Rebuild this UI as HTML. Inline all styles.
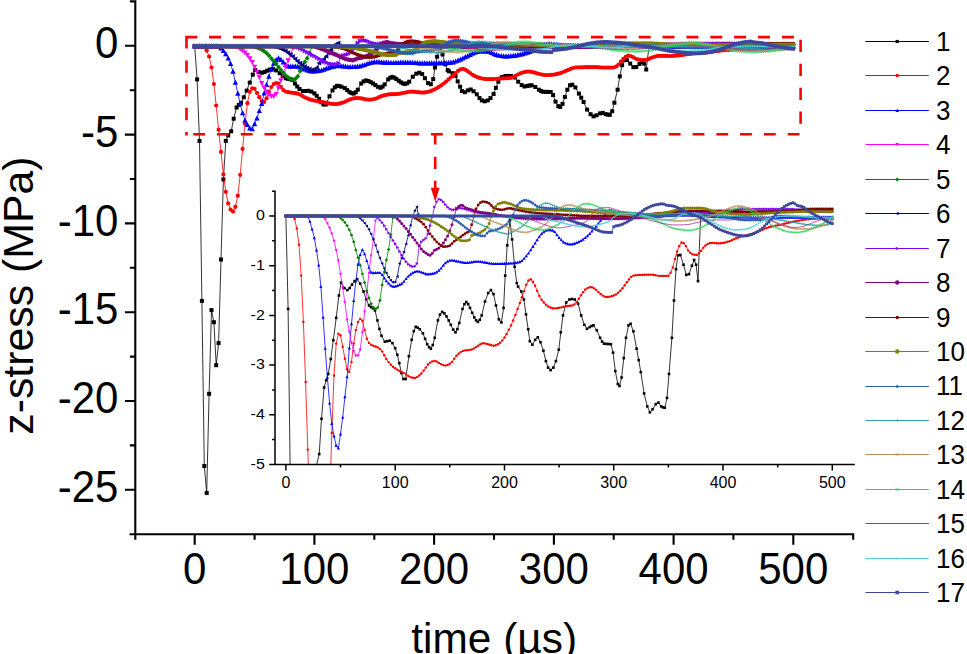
<!DOCTYPE html>
<html><head><meta charset="utf-8"><title>z-stress vs time</title>
<style>
html,body{margin:0;padding:0;background:#fff;}
svg{display:block;font-family:"Liberation Sans", sans-serif;}
text{fill:#000;}
</style></head>
<body>
<svg width="967" height="654" viewBox="0 0 967 654">
<rect width="967" height="654" fill="#fff"/>
<defs>
<marker id="m1" markerUnits="userSpaceOnUse" markerWidth="11.2" markerHeight="11.2" viewBox="-5.6 -5.6 11.2 11.2" refX="0" refY="0" overflow="visible"><rect x="-2" y="-2" width="4" height="4" fill="#000000"/></marker>
<marker id="i1" markerUnits="userSpaceOnUse" markerWidth="7.3" markerHeight="7.3" viewBox="-3.6 -3.6 7.3 7.3" refX="0" refY="0" overflow="visible"><rect x="-1.3" y="-1.3" width="2.6" height="2.6" fill="#000000"/></marker>
<marker id="m2" markerUnits="userSpaceOnUse" markerWidth="11.8" markerHeight="11.8" viewBox="-5.9 -5.9 11.8 11.8" refX="0" refY="0" overflow="visible"><circle r="2.1" fill="#ff0000"/></marker>
<marker id="i2" markerUnits="userSpaceOnUse" markerWidth="6.7" markerHeight="6.7" viewBox="-3.4 -3.4 6.7 6.7" refX="0" refY="0" overflow="visible"><circle r="1.2" fill="#ff0000"/></marker>
<marker id="m3" markerUnits="userSpaceOnUse" markerWidth="15.1" markerHeight="15.1" viewBox="-7.6 -7.6 15.1 15.1" refX="0" refY="0" overflow="visible"><path d="M0 -3 L2.7 2.2 L-2.7 2.2 Z" fill="#0000ff"/></marker>
<marker id="i3" markerUnits="userSpaceOnUse" markerWidth="9" markerHeight="9" viewBox="-4.5 -4.5 9 9" refX="0" refY="0" overflow="visible"><path d="M0 -1.8 L1.6 1.3 L-1.6 1.3 Z" fill="#0000ff"/></marker>
<marker id="m4" markerUnits="userSpaceOnUse" markerWidth="14.6" markerHeight="14.6" viewBox="-7.3 -7.3 14.6 14.6" refX="0" refY="0" overflow="visible"><path d="M0 2.9 L2.6 -2.1 L-2.6 -2.1 Z" fill="#ff00ff"/></marker>
<marker id="i4" markerUnits="userSpaceOnUse" markerWidth="8.4" markerHeight="8.4" viewBox="-4.2 -4.2 8.4 8.4" refX="0" refY="0" overflow="visible"><path d="M0 1.7 L1.5 -1.2 L-1.5 -1.2 Z" fill="#ff00ff"/></marker>
<marker id="m5" markerUnits="userSpaceOnUse" markerWidth="12.3" markerHeight="12.3" viewBox="-6.2 -6.2 12.3 12.3" refX="0" refY="0" overflow="visible"><path d="M0 -2.5 L2.5 0 L0 2.5 L-2.5 0 Z" fill="#008000"/></marker>
<marker id="i5" markerUnits="userSpaceOnUse" markerWidth="8.4" markerHeight="8.4" viewBox="-4.2 -4.2 8.4 8.4" refX="0" refY="0" overflow="visible"><path d="M0 -1.7 L1.7 0 L0 1.7 L-1.7 0 Z" fill="#008000"/></marker>
<marker id="m6" markerUnits="userSpaceOnUse" markerWidth="14" markerHeight="14" viewBox="-7 -7 14 14" refX="0" refY="0" overflow="visible"><path d="M-2.8 0 L2 -2.5 L2 2.5 Z" fill="#000080"/></marker>
<marker id="i6" markerUnits="userSpaceOnUse" markerWidth="8.4" markerHeight="8.4" viewBox="-4.2 -4.2 8.4 8.4" refX="0" refY="0" overflow="visible"><path d="M-1.7 0 L1.2 -1.5 L1.2 1.5 Z" fill="#000080"/></marker>
<marker id="m7" markerUnits="userSpaceOnUse" markerWidth="14" markerHeight="14" viewBox="-7 -7 14 14" refX="0" refY="0" overflow="visible"><path d="M2.8 0 L-2 -2.5 L-2 2.5 Z" fill="#8000ff"/></marker>
<marker id="i7" markerUnits="userSpaceOnUse" markerWidth="9" markerHeight="9" viewBox="-4.5 -4.5 9 9" refX="0" refY="0" overflow="visible"><path d="M1.8 0 L-1.3 -1.6 L-1.3 1.6 Z" fill="#8000ff"/></marker>
<marker id="m8" markerUnits="userSpaceOnUse" markerWidth="12.3" markerHeight="12.3" viewBox="-6.2 -6.2 12.3 12.3" refX="0" refY="0" overflow="visible"><circle r="2.2" fill="#800080"/></marker>
<marker id="i8" markerUnits="userSpaceOnUse" markerWidth="8.4" markerHeight="8.4" viewBox="-4.2 -4.2 8.4 8.4" refX="0" refY="0" overflow="visible"><circle r="1.5" fill="#800080"/></marker>
<marker id="m9" markerUnits="userSpaceOnUse" markerWidth="10.6" markerHeight="10.6" viewBox="-5.3 -5.3 10.6 10.6" refX="0" refY="0" overflow="visible"><circle r="1.9" fill="#800000"/></marker>
<marker id="i9" markerUnits="userSpaceOnUse" markerWidth="8.1" markerHeight="8.1" viewBox="-4.1 -4.1 8.1 8.1" refX="0" refY="0" overflow="visible"><circle r="1.4" fill="#800000"/></marker>
<marker id="m10" markerUnits="userSpaceOnUse" markerWidth="12.3" markerHeight="12.3" viewBox="-6.2 -6.2 12.3 12.3" refX="0" refY="0" overflow="visible"><circle r="2.2" fill="#808000"/></marker>
<marker id="i10" markerUnits="userSpaceOnUse" markerWidth="8.4" markerHeight="8.4" viewBox="-4.2 -4.2 8.4 8.4" refX="0" refY="0" overflow="visible"><circle r="1.5" fill="#808000"/></marker>
<marker id="m11" markerUnits="userSpaceOnUse" markerWidth="11.2" markerHeight="11.2" viewBox="-5.6 -5.6 11.2 11.2" refX="0" refY="0" overflow="visible"><path d="M0 -2.3 L2.3 0 L0 2.3 L-2.3 0 Z" fill="#2a5cb0"/></marker>
<marker id="i11" markerUnits="userSpaceOnUse" markerWidth="8.4" markerHeight="8.4" viewBox="-4.2 -4.2 8.4 8.4" refX="0" refY="0" overflow="visible"><path d="M0 -1.7 L1.7 0 L0 1.7 L-1.7 0 Z" fill="#2a5cb0"/></marker>
<marker id="m12" markerUnits="userSpaceOnUse" markerWidth="9" markerHeight="9" viewBox="-4.5 -4.5 9 9" refX="0" refY="0" overflow="visible"><path d="M-1.6 0H1.6 M0 -1.6V1.6" stroke="#2ea0a0" stroke-width="0.7" fill="none"/></marker>
<marker id="i12" markerUnits="userSpaceOnUse" markerWidth="6.2" markerHeight="6.2" viewBox="-3.1 -3.1 6.2 6.2" refX="0" refY="0" overflow="visible"><path d="M-1.1 0H1.1 M0 -1.1V1.1" stroke="#2ea0a0" stroke-width="0.6" fill="none"/></marker>
<marker id="m13" markerUnits="userSpaceOnUse" markerWidth="8.4" markerHeight="8.4" viewBox="-4.2 -4.2 8.4 8.4" refX="0" refY="0" overflow="visible"><path d="M-1.5 -1.5L1.5 1.5 M-1.5 1.5L1.5 -1.5" stroke="#b8905c" stroke-width="0.7" fill="none"/></marker>
<marker id="i13" markerUnits="userSpaceOnUse" markerWidth="6.2" markerHeight="6.2" viewBox="-3.1 -3.1 6.2 6.2" refX="0" refY="0" overflow="visible"><path d="M-1.1 -1.1L1.1 1.1 M-1.1 1.1L1.1 -1.1" stroke="#b8905c" stroke-width="0.6" fill="none"/></marker>
<marker id="m14" markerUnits="userSpaceOnUse" markerWidth="8.4" markerHeight="8.4" viewBox="-4.2 -4.2 8.4 8.4" refX="0" refY="0" overflow="visible"><path d="M-1.5 -1.5L1.5 1.5 M-1.5 1.5L1.5 -1.5" stroke="#2ed35a" stroke-width="0.7" fill="none"/></marker>
<marker id="i14" markerUnits="userSpaceOnUse" markerWidth="6.2" markerHeight="6.2" viewBox="-3.1 -3.1 6.2 6.2" refX="0" refY="0" overflow="visible"><path d="M-1.1 -1.1L1.1 1.1 M-1.1 1.1L1.1 -1.1" stroke="#2ed35a" stroke-width="0.6" fill="none"/></marker>
<marker id="m16" markerUnits="userSpaceOnUse" markerWidth="8.4" markerHeight="8.4" viewBox="-4.2 -4.2 8.4 8.4" refX="0" refY="0" overflow="visible"><path d="M-1.5 0H1.5 M0 -1.5V1.5" stroke="#4fd0d8" stroke-width="0.7" fill="none"/></marker>
<marker id="i16" markerUnits="userSpaceOnUse" markerWidth="6.2" markerHeight="6.2" viewBox="-3.1 -3.1 6.2 6.2" refX="0" refY="0" overflow="visible"><path d="M-1.1 0H1.1 M0 -1.1V1.1" stroke="#4fd0d8" stroke-width="0.6" fill="none"/></marker>
<marker id="m17" markerUnits="userSpaceOnUse" markerWidth="10.1" markerHeight="10.1" viewBox="-5 -5 10.1 10.1" refX="0" refY="0" overflow="visible"><rect x="-1.8" y="-1.8" width="3.6" height="3.6" fill="#3b489e"/></marker>
<marker id="i17" markerUnits="userSpaceOnUse" markerWidth="7.8" markerHeight="7.8" viewBox="-3.9 -3.9 7.8 7.8" refX="0" refY="0" overflow="visible"><rect x="-1.4" y="-1.4" width="2.8" height="2.8" fill="#3b489e"/></marker>
<clipPath id="insclip"><rect x="275" y="188" width="590" height="276.3"/></clipPath>
</defs>
<g id="main-curves">
<polyline points="194.7,46.2 197.1,79.4 199.5,140.9 201.9,300.9 204.3,466 206.7,492.9 209.1,393.8 211.5,310.1 213.9,322.2 216.2,365.2 218.6,343.1 221,259.5 223.4,179.4 225.8,140.9 228.2,135.4 231.2,131.3 233.7,118.7 236.6,107.5 238.8,104.9 241,102.7 243.8,97.3 246.7,90.6 249.8,82.6 252.8,74.6 255.2,70 258.8,72 262.1,72.7 264.6,71.9 267.1,70.7 269.9,69.5 272.8,68.8 276.1,70.4 279.7,73.2 282.7,76 285.7,78.2 287.9,78.8 290.1,79.2 292.3,79.9 294.9,83.5 297.2,86.5 299.5,89 303,91.1 305.7,91 308.4,90.8 311.4,91.6 314.4,93.4 316.7,95.8 319,98.8 321.2,102.3 323.5,104.5 325.9,104.5 329.5,96.3 332.5,90.4 334.8,87.3 337,85.8 339.2,86.1 341.4,86.7 344.8,88.1 347.2,90.1 349.5,92 351.5,93.1 353.6,93.6 355.7,92.3 357.8,89.7 361.2,83.5 363.6,81.4 365.9,80.5 368.3,81 370.7,82.1 373,83.5 375.4,85.1 377.9,86.8 380.5,87.8 382.6,86.6 384.7,84.4 388.2,79.4 390.3,77.7 392.4,76.9 394.4,77.7 396.4,79.1 398.8,80.8 401.1,82.4 403.1,83.5 405,84 407.1,83.3 409.2,81.7 412.8,76.7 416.3,73.7 419.3,72.7 422.2,74.1 424.9,78.2 428,83.1 430.8,84.2 433.2,79.1 435,67.5 437.1,56.7 440.1,47.6 442.5,54.5 445.3,64.3 447.7,70.2 449.1,71.4 452.6,73.2 455.5,76 457.7,81.4 460.1,86.7 461.9,91 464.8,92.2 467.8,90.4 470.7,89.5 473.6,91.3 476.8,94.3 479.5,98.1 481.9,100.4 484.7,101.3 487.8,100.4 490.5,98.1 493.6,94 495.9,87.8 498.3,81.7 501.8,77.1 505.3,76 508.1,75.9 511.1,76 514.7,77.5 518.2,81.7 521.7,85.1 524.5,86.5 527.5,85.9 529.6,85.5 531.7,85.3 535.3,87 538.9,89.7 541.1,91.1 543.3,91.8 545.8,91.9 548.3,91.9 550.7,92 553.1,95 555.5,101.6 558.3,106.2 560.2,106.9 562.5,103.9 564.9,97 567.3,89.7 570,85.3 572.3,84.7 575.4,87.4 578.9,93.6 581.2,97.7 583.6,102 587.1,109.6 590.6,114.2 593.5,116.4 596.5,115.3 600,113.4 602.8,112.9 605.8,114.2 607.8,114.6 609.8,114.8 612.2,111.2 614.4,102.7 617.6,89.7 619.8,76.4 622.1,65.2 624.1,60.2 626.8,60.1 630.2,63.6 633.4,67.2 636.3,67 639.5,64 641.9,61.9 644.1,63.6 646.2,69.5 649,46.7" fill="none" stroke="#000000" stroke-width="0.8" stroke-linejoin="round" marker-start="url(#m1)" marker-mid="url(#m1)" marker-end="url(#m1)"/>
<polyline points="194.7,46.2 197.1,46.2 199.5,46.2 201.9,46.2 204.3,47.3 206.7,50.6 209.1,56.5 211.5,67.5 213.9,84 216.2,105.5 218.6,129.7 221,151.9 223.4,174.4 225.8,191.8 228.2,203.4 230.6,209.6 233,211.6 235.4,206.8 237.8,195.7 240.2,174.8 242.6,148.9 245,123.7 247.4,103.2 249.8,91.8 252.2,88.3 254.6,88.8 257,92.9 259.3,97.2 261.7,101 264.1,101.9 266.5,98.3 268.9,91.8 271.3,87 273.7,84.1 276.1,83 278.5,83.6 280.9,86.9 283.3,90 285.7,91.5 288.1,92.2 290.5,92.6 292.9,92.8 295.3,93.2 297.7,93.7 300.1,94.6 302.4,96 304.8,97.3 307.2,98.4 309.6,99.4 312,100.1 314.4,100.6 316.8,101.1 319.2,101.6 321.6,102 324,102.3 326.4,102.8 328.8,103.4 331.2,103.8 333.6,104 336,104.1 338.4,103.8 340.8,103.2 343.2,102.5 345.5,101.5 347.9,100.4 350.3,99.3 352.7,98.6 355.1,98.2 357.5,98 359.9,98.2 362.3,98.7 364.7,99.1 367.1,99.5 369.5,99.7 371.9,99.5 374.3,99 376.7,98.3 379.1,97.2 381.5,96.2 383.9,95.4 386.3,94.8 388.6,94.4 391,94.2 393.4,94.2 395.8,94.1 398.2,93.9 400.6,93.5 403,93 405.4,92.6 407.8,92 410.2,91.7 412.6,91.7 415,91.9 417.4,92.1 419.8,92.4 422.2,92.6 424.6,92.4 427,92 429.4,91.5 431.7,90.7 434.1,89.6 436.5,88.3 438.9,86.9 441.3,85.3 443.7,83.5 446.1,81.6 448.5,79.4 450.9,77.3 453.3,75.2 455.7,73 458.1,70.8 460.5,69.3 462.9,68.8 465.3,69.7 467.7,71.2 470.1,73 472.5,74.8 474.8,76.1 477.2,77.1 479.6,77.9 482,78.5 484.4,78.9 486.8,79.1 489.2,79.2 491.6,79.2 494,79 496.4,78.8 498.8,78.7 501.2,78.5 503.6,78.3 506,78.3 508.4,78.2 510.8,77.8 513.2,76.9 515.5,75.8 517.9,74.5 520.3,73.4 522.7,72.5 525.1,71.9 527.5,71.6 529.9,71.7 532.3,72.1 534.7,72.6 537.1,73.4 539.5,74 541.9,74.6 544.3,75.1 546.7,75.1 549.1,75 551.5,74.9 553.9,74.6 556.3,74.2 558.6,73.6 561,72.9 563.4,72 565.8,70.9 568.2,69.9 570.6,68.9 573,68 575.4,67.5 577.8,67.4 580.2,67.3 582.6,67.3 585,67.2 587.4,67.2 589.8,67.2 592.2,67.2 594.6,67.2 597,67.2 599.4,67.4 601.7,67.5 604.1,67.6 606.5,67.6 608.9,67.6 611.3,67.6 613.7,67.5 616.1,66.5 618.5,64.6 620.9,61.6 623.3,58.9 625.7,56.9 628.1,55.7 630.5,56 632.9,57 635.3,58.5 637.7,59.4 640.1,59.8 642.5,60.1 644.8,60.1 647.2,59.5 649.6,58.6 652,57.5 654.4,56.8 656.8,56.2 659.2,55.8 661.6,55.8 664,55.9 666.4,55.9 668.8,56 671.2,56 673.6,55.8 676,55.7 678.4,55.4 680.8,55.2 683.2,54.9 685.6,54.5 687.9,54.1 690.3,53.9 692.7,53.6 695.1,53.4 697.5,53.2 699.9,53 702.3,52.8 704.7,52.6 707.1,52.4 709.5,52.1 711.9,51.8 714.3,51.5 716.7,51.1 719.1,50.8 721.5,50.5 723.9,50.2 726.3,50 728.7,49.9 731,49.7 733.4,49.5 735.8,49.4 738.2,49.2 740.6,49 743,48.8 745.4,48.6 747.8,48.4 750.2,48.3 752.6,48.1 755,47.9 757.4,47.8 759.8,47.6 762.2,47.5 764.6,47.4 767,47.3 769.4,47.3 771.8,47.2 774.1,47.2 776.5,47.1 778.9,47.1 781.3,47.1 783.7,47.1 786.1,47.1 788.5,47.2 790.9,47.3 793.3,47.3" fill="none" stroke="#ff0000" stroke-width="0.8" stroke-linejoin="round" marker-start="url(#m2)" marker-mid="url(#m2)" marker-end="url(#m2)"/>
<polyline points="194.7,46.2 197.1,46.2 199.5,46.2 201.9,46.2 204.3,46.2 206.7,46.2 209.1,46.2 211.5,46.2 213.9,46.2 216.2,46.2 218.6,46.5 221,48.2 223.4,50.9 225.8,54 228.2,58.4 230.6,63.8 233,71.5 235.4,82.5 237.8,93.6 240.2,103.9 242.6,113.1 245,120.4 247.4,124.9 249.8,128.3 252.2,129.1 254.6,124.1 257,118.2 259.3,110.9 261.7,103.7 264.1,93.4 266.5,84.8 268.9,76.5 271.3,69.5 273.7,63.5 276.1,60.1 278.5,58.3 280.9,59.8 283.3,62.2 285.7,64.7 288.1,66.3 290.5,66.6 292.9,66.4 295.3,66.4 297.7,66.5 300.1,67.2 302.4,68.5 304.8,69.4 307.2,70.3 309.6,71 312,71.4 314.4,71.4 316.8,71.1 319.2,70.8 321.6,70.4 324,69.6 326.4,68.6 328.8,67.7 331.2,67.1 333.6,66.5 336,66.1 338.4,65.9 340.8,66 343.2,66.3 345.5,66.6 347.9,66.9 350.3,67 352.7,66.9 355.1,66.8 357.5,66.6 359.9,66.3 362.3,65.6 364.7,64.9 367.1,63.9 369.5,63 371.9,62.5 374.3,62.1 376.7,62 379.1,62.1 381.5,62.3 383.9,62.5 386.3,62.6 388.6,62.8 391,62.9 393.4,62.9 395.8,62.8 398.2,62.7 400.6,62.6 403,62.5 405.4,62.5 407.8,62.5 410.2,62.6 412.6,62.8 415,62.9 417.4,63.1 419.8,63.2 422.2,63.2 424.6,63.2 427,63.2 429.4,63.2 431.7,63.2 434.1,63.2 436.5,63.2 438.9,63.1 441.3,63.1 443.7,63.1 446.1,63 448.5,62.8 450.9,62.6 453.3,62.2 455.7,61.4 458.1,60.5 460.5,59.5 462.9,58.4 465.3,57.1 467.7,56 470.1,54.8 472.5,53.5 474.8,52.5 477.2,51.9 479.6,51.4 482,51.2 484.4,51.2 486.8,51.3 489.2,51.9 491.6,52.9 494,54 496.4,54.8 498.8,55.5 501.2,55.9 503.6,56.2 506,56.3 508.4,56.3 510.8,56.1 513.2,55.8 515.5,55.5 517.9,55.1 520.3,54.6 522.7,54 525.1,53.3 527.5,52.5 529.9,51.7 532.3,50.8 534.7,49.8 537.1,48.8 539.5,47.8 541.9,46.7 544.3,45.6 546.7,44.5 549.1,44.1 551.5,44.2 553.9,44.4 556.3,44.7 558.6,44.9 561,45.2 563.4,45.5 565.8,45.7 568.2,45.8 570.6,45.9 573,46.1 575.4,46.2 577.8,46.3 580.2,46.4 582.6,46.5 585,46.5 587.4,46.5 589.8,46.6 592.2,46.5 594.6,46.5 597,46.5 599.4,46.4 601.7,46.4 604.1,46.3 606.5,46.2 608.9,46.2 611.3,46.1 613.7,46 616.1,46 618.5,45.9 620.9,45.9 623.3,45.9 625.7,45.8 628.1,45.8 630.5,45.9 632.9,45.9 635.3,45.9 637.7,45.9 640.1,46 642.5,46 644.8,46.1 647.2,46.1 649.6,46.2 652,46.2 654.4,46.3 656.8,46.3 659.2,46.4 661.6,46.4 664,46.5 666.4,46.5 668.8,46.5 671.2,46.5 673.6,46.6 676,46.6 678.4,46.6 680.8,46.6 683.2,46.6 685.6,46.6 687.9,46.6 690.3,46.6 692.7,46.6 695.1,46.7 697.5,46.7 699.9,46.7 702.3,46.7 704.7,46.7 707.1,46.7 709.5,46.7 711.9,46.7 714.3,46.7 716.7,46.7 719.1,46.7 721.5,46.7 723.9,46.7 726.3,46.7 728.7,46.7 731,46.7 733.4,46.7 735.8,46.7 738.2,46.7 740.6,46.7 743,46.7 745.4,46.7 747.8,46.7 750.2,46.7 752.6,46.7 755,46.7 757.4,46.7 759.8,46.7 762.2,46.7 764.6,46.7 767,46.7 769.4,46.7 771.8,46.7 774.1,46.7 776.5,46.6 778.9,46.6 781.3,46.6 783.7,46.6 786.1,46.6 788.5,46.6 790.9,46.6 793.3,46.6" fill="none" stroke="#0000ff" stroke-width="0.8" stroke-linejoin="round" marker-start="url(#m3)" marker-mid="url(#m3)" marker-end="url(#m3)"/>
<polyline points="194.7,46.2 197.1,46.2 199.5,46.2 201.9,46.2 204.3,46.2 206.7,46.2 209.1,46.2 211.5,46.2 213.9,46.2 216.2,46.2 218.6,46.2 221,46.2 223.4,46.2 225.8,46.2 228.2,46.2 230.6,46.2 233,46.2 235.4,46.6 237.8,47.4 240.2,48.8 242.6,50.5 245,52.5 247.4,55.1 249.8,58.4 252.2,62.2 254.6,66.9 257,71.9 259.3,77.1 261.7,83.2 264.1,87.5 266.5,91.5 268.9,94.6 271.3,96.1 273.7,96.1 276.1,94 278.5,87.8 280.9,80.4 283.3,73.4 285.7,66.5 288.1,60.4 290.5,54.8 292.9,47.9" fill="none" stroke="#ff00ff" stroke-width="0.8" stroke-linejoin="round" marker-start="url(#m4)" marker-mid="url(#m4)" marker-end="url(#m4)"/>
<polyline points="194.7,46.2 197.1,46.2 199.5,46.2 201.9,46.2 204.3,46.2 206.7,46.2 209.1,46.2 211.5,46.2 213.9,46.2 216.2,46.2 218.6,46.2 221,46.2 223.4,46.2 225.8,46.2 228.2,46.2 230.6,46.2 233,46.2 235.4,46.2 237.8,46.2 240.2,46.2 242.6,46.2 245,46.2 247.4,46.2 249.8,46.2 252.2,46.3 254.6,46.9 257,47.6 259.3,48.5 261.7,49.6 264.1,51.2 266.5,53 268.9,55.4 271.3,58.4 273.7,61.1 276.1,63.8 278.5,66.9 280.9,70 283.3,72.9 285.7,75.5 288.1,77.6 290.5,78.9 292.9,79.4 295.3,78.9 297.7,76.4 300.1,70.9 302.4,66.2 304.8,61.9 307.2,58.2 309.6,52.9 311.9,46.7" fill="none" stroke="#008000" stroke-width="0.8" stroke-linejoin="round" marker-start="url(#m5)" marker-mid="url(#m5)" marker-end="url(#m5)"/>
<polyline points="194.7,46.2 197.1,46.2 199.5,46.2 201.9,46.2 204.3,46.2 206.7,46.2 209.1,46.2 211.5,46.2 213.9,46.2 216.2,46.2 218.6,46.2 221,46.2 223.4,46.2 225.8,46.2 228.2,46.2 230.6,46.2 233,46.2 235.4,46.2 237.8,46.2 240.2,46.2 242.6,46.2 245,46.2 247.4,46.2 249.8,46.2 252.2,46.2 254.6,46.2 257,46.2 259.3,46.2 261.7,46.2 264.1,46.2 266.5,46.2 268.9,46.2 271.3,46.2 273.7,46.5 276.1,47.1 278.5,47.8 280.9,48.7 283.3,49.8 285.7,51.1 288.1,52.7 290.5,54.5 292.9,56.6 295.3,59.1 297.7,61.2 300.1,63.2 302.4,65 304.8,66.6 307.2,68.1 309.6,69.1 312,69.9 314.4,69.8 316.8,67.8 319.2,63.1 321.6,61.3 324,59 326.4,56.2 328.8,53.1 331.2,49.5 333.6,46.5 336,44.3 338.4,42.9 339.6,45.7" fill="none" stroke="#000080" stroke-width="0.8" stroke-linejoin="round" marker-start="url(#m6)" marker-mid="url(#m6)" marker-end="url(#m6)"/>
<polyline points="194.7,46.2 197.1,46.2 199.5,46.2 201.9,46.2 204.3,46.2 206.7,46.2 209.1,46.2 211.5,46.2 213.9,46.2 216.2,46.2 218.6,46.2 221,46.2 223.4,46.2 225.8,46.2 228.2,46.2 230.6,46.2 233,46.2 235.4,46.2 237.8,46.2 240.2,46.2 242.6,46.2 245,46.2 247.4,46.2 249.8,46.2 252.2,46.2 254.6,46.2 257,46.2 259.3,46.2 261.7,46.2 264.1,46.2 266.5,46.2 268.9,46.2 271.3,46.2 273.7,46.2 276.1,46.2 278.5,46.2 280.9,46.2 283.3,46.2 285.7,46.2 288.1,46.2 290.5,46.2 292.9,46.3 295.3,46.9 297.7,47.6 300.1,48.6 302.4,49.6 304.8,50.9 307.2,52.3 309.6,53.6 312,54.9 314.4,56.1 316.8,57.4 319.2,58.8 321.6,60.2 324,61.4 326.4,62.5 328.8,63.4 331.2,63.9 333.6,64.3 336,64.2 338.4,63.2 340.8,56.9 343.2,55.4 345.5,54.8 347.9,54.2 350.3,52.5 352.7,49.7 355.1,46.5 357.5,43 359.9,41.1 362.3,40.2 364.7,40.4 367.1,41.1 369.5,42.1 371.9,43 374.3,43.6 376.7,44 379.1,43.9 381.5,43.4 383.9,43.4 386.3,43.4 388.6,43.5 391,43.7 393.4,43.9 395.8,44.1 398.2,44.4 400.6,44.6 403,44.8 405.4,45 407.8,45.1 410.2,45.2 412.6,45.3 415,45.4 417.4,45.5 419.8,45.6 422.2,45.6 424.6,45.7 427,45.8 429.4,46 431.7,46.1 434.1,46.2 436.5,46.3 438.9,46.5 441.3,46.6 443.7,46.7 446.1,46.9 448.5,47 450.9,47.1 453.3,47.1 455.7,47.2 458.1,47.2 460.5,47.2 462.9,47.3 465.3,47.3 467.7,47.3 470.1,47.4 472.5,47.4 474.8,47.4 477.2,47.4 479.6,47.4 482,47.4 484.4,47.4 486.8,47.4 489.2,47.4 491.6,47.4 494,47.4 496.4,47.3 498.8,47.3 501.2,47.2 503.6,47.2 506,47.2 508.4,47.2 510.8,47.1 513.2,47.1 515.5,47.1 517.9,47.1 520.3,47.1 522.7,47.1 525.1,47.1 527.5,47.1 529.9,47.1 532.3,47.2 534.7,47.2 537.1,47.2 539.5,47.2 541.9,47.2 544.3,47.2 546.7,47.2 549.1,47.3 551.5,47.3 553.9,47.3 556.3,47.3 558.6,47.3 561,47.2 563.4,47.2 565.8,47.2 568.2,47.2 570.6,47.1 573,47.1 575.4,47 577.8,47 580.2,46.9 582.6,46.9 585,46.8 587.4,46.8 589.8,46.7 592.2,46.7 594.6,46.6 597,46.5 599.4,46.4 601.7,46.3 604.1,46.2 606.5,46.1 608.9,46 611.3,45.9 613.7,45.8 616.1,45.7 618.5,45.6 620.9,45.5 623.3,45.4 625.7,45.3 628.1,45.3 630.5,45.2 632.9,45.1 635.3,45.1 637.7,45.1 640.1,45 642.5,45 644.8,44.9 647.2,44.9 649.6,44.9 652,44.8 654.4,44.8 656.8,44.7 659.2,44.7 661.6,44.7 664,44.6 666.4,44.6 668.8,44.5 671.2,44.5 673.6,44.4 676,44.4 678.4,44.3 680.8,44.2 683.2,44.1 685.6,44 687.9,43.9 690.3,43.8 692.7,43.8 695.1,43.7 697.5,43.7 699.9,43.7 702.3,43.7 704.7,43.7 707.1,43.7 709.5,43.7 711.9,43.7 714.3,43.7 716.7,43.7 719.1,43.7 721.5,43.7 723.9,43.7 726.3,43.7 728.7,43.7 731,43.7 733.4,43.7 735.8,43.7 738.2,43.7 740.6,43.7 743,43.7 745.4,43.7 747.8,43.7 750.2,43.8 752.6,43.8 755,43.9 757.4,44 759.8,44.1 762.2,44.2 764.6,44.3 767,44.4 769.4,44.4 771.8,44.5 774.1,44.5 776.5,44.6 778.9,44.6 781.3,44.6 783.7,44.7 786.1,44.7 788.5,44.7 790.9,44.8 793.3,44.8" fill="none" stroke="#8000ff" stroke-width="0.8" stroke-linejoin="round" marker-start="url(#m7)" marker-mid="url(#m7)" marker-end="url(#m7)"/>
<polyline points="194.7,46.2 197.1,46.2 199.5,46.2 201.9,46.2 204.3,46.2 206.7,46.2 209.1,46.2 211.5,46.2 213.9,46.2 216.2,46.2 218.6,46.2 221,46.2 223.4,46.2 225.8,46.2 228.2,46.2 230.6,46.2 233,46.2 235.4,46.2 237.8,46.2 240.2,46.2 242.6,46.2 245,46.2 247.4,46.2 249.8,46.2 252.2,46.2 254.6,46.2 257,46.2 259.3,46.2 261.7,46.2 264.1,46.2 266.5,46.2 268.9,46.2 271.3,46.2 273.7,46.2 276.1,46.2 278.5,46.2 280.9,46.2 283.3,46.2 285.7,46.2 288.1,46.2 290.5,46.2 292.9,46.2 295.3,46.2 297.7,46.2 300.1,46.2 302.4,46.2 304.8,46.2 307.2,46.2 309.6,46.2 312,46.2 314.4,46.6 316.8,47.3 319.2,48 321.6,48.9 324,49.8 326.4,50.7 328.8,51.7 331.2,52.7 333.6,53.8 336,54.8 338.4,55.8 340.8,56.8 343.2,57.9 345.5,58.9 347.9,59.5 350.3,59.9 352.7,60.2 355.1,59.5 357.5,58.4 359.9,58.1 362.3,57.6 364.7,56.8 367.1,55.9 369.5,54.7 371.9,53.3 374.3,51.5 376.7,49.3 379.1,46.4 381.5,43.7 383.9,42.8 386.3,42.3 388.6,42.5 391,43.1 393.4,43.5 395.8,43.7 398.2,44 400.6,44.2 403,44.5 405.4,44.7 407.8,44.8 410.2,45 412.6,45.1 415,45.2 417.4,45.3 419.8,45.4 422.2,45.5 424.6,45.7 427,45.8 429.4,46 431.7,46.1 434.1,46.2 436.5,46.3 438.9,46.3 441.3,46.4 443.7,46.5 446.1,46.6 448.5,46.6 450.9,46.7 453.3,46.7 455.7,46.8 458.1,46.8 460.5,46.8 462.9,46.9 465.3,46.9 467.7,46.9 470.1,46.9 472.5,46.9 474.8,46.9 477.2,46.9 479.6,46.9 482,46.9 484.4,46.9 486.8,46.9 489.2,46.9 491.6,46.9 494,46.9 496.4,46.9 498.8,46.9 501.2,46.9 503.6,46.9 506,46.9 508.4,46.9 510.8,46.9 513.2,46.9 515.5,46.9 517.9,46.9 520.3,46.9 522.7,47 525.1,47 527.5,47 529.9,47 532.3,47 534.7,47 537.1,47 539.5,47 541.9,47.1 544.3,47.1 546.7,47.1 549.1,47.1 551.5,47.1 553.9,47.1 556.3,47.1 558.6,47.1 561,47 563.4,47 565.8,47 568.2,46.9 570.6,46.9 573,46.9 575.4,46.8 577.8,46.7 580.2,46.7 582.6,46.6 585,46.6 587.4,46.5 589.8,46.4 592.2,46.4 594.6,46.3 597,46.3 599.4,46.2 601.7,46.2 604.1,46.2 606.5,46.1 608.9,46.1 611.3,46 613.7,46 616.1,46 618.5,45.9 620.9,45.9 623.3,45.9 625.7,45.8 628.1,45.8 630.5,45.8 632.9,45.7 635.3,45.7 637.7,45.7 640.1,45.6 642.5,45.6 644.8,45.6 647.2,45.5 649.6,45.5 652,45.5 654.4,45.4 656.8,45.4 659.2,45.3 661.6,45.3 664,45.3 666.4,45.2 668.8,45.2 671.2,45.1 673.6,45.1 676,45.1 678.4,45 680.8,45 683.2,45 685.6,44.9 687.9,44.9 690.3,44.9 692.7,44.8 695.1,44.8 697.5,44.8 699.9,44.8 702.3,44.7 704.7,44.7 707.1,44.7 709.5,44.7 711.9,44.6 714.3,44.6 716.7,44.6 719.1,44.6 721.5,44.5 723.9,44.5 726.3,44.5 728.7,44.5 731,44.5 733.4,44.5 735.8,44.4 738.2,44.4 740.6,44.4 743,44.4 745.4,44.4 747.8,44.4 750.2,44.4 752.6,44.4 755,44.4 757.4,44.4 759.8,44.4 762.2,44.4 764.6,44.4 767,44.4 769.4,44.4 771.8,44.4 774.1,44.4 776.5,44.4 778.9,44.4 781.3,44.4 783.7,44.4 786.1,44.4 788.5,44.4 790.9,44.4 793.3,44.4" fill="none" stroke="#800080" stroke-width="0.8" stroke-linejoin="round" marker-start="url(#m8)" marker-mid="url(#m8)" marker-end="url(#m8)"/>
<polyline points="194.7,46.2 197.1,46.2 199.5,46.2 201.9,46.2 204.3,46.2 206.7,46.2 209.1,46.2 211.5,46.2 213.9,46.2 216.2,46.2 218.6,46.2 221,46.2 223.4,46.2 225.8,46.2 228.2,46.2 230.6,46.2 233,46.2 235.4,46.2 237.8,46.2 240.2,46.2 242.6,46.2 245,46.2 247.4,46.2 249.8,46.2 252.2,46.2 254.6,46.2 257,46.2 259.3,46.2 261.7,46.2 264.1,46.2 266.5,46.2 268.9,46.2 271.3,46.2 273.7,46.2 276.1,46.2 278.5,46.2 280.9,46.2 283.3,46.2 285.7,46.2 288.1,46.2 290.5,46.2 292.9,46.2 295.3,46.2 297.7,46.2 300.1,46.2 302.4,46.2 304.8,46.2 307.2,46.2 309.6,46.2 312,46.2 314.4,46.2 316.8,46.2 319.2,46.2 321.6,46.2 324,46.2 326.4,46.2 328.8,46.2 331.2,46.2 333.6,46.5 336,46.9 338.4,47.3 340.8,47.8 343.2,48.4 345.5,49.1 347.9,50.2 350.3,51.4 352.7,52.6 355.1,53.6 357.5,54.6 359.9,55.4 362.3,56.1 364.7,56.8 367.1,57.2 369.5,57.2 371.9,57 374.3,56.8 376.7,56.1 379.1,55.3 381.5,54.7 383.9,54.2 386.3,53.7 388.6,53.1 391,52.5 393.4,52.1 395.8,51.7 398.2,49.3 400.6,46.2 403,43.6 405.4,42.3 407.8,41.4 410.2,41.1 412.6,41.1 415,41.4 417.4,41.7 419.8,42.5 422.2,43.2 424.6,43.6 427,43.8 429.4,43.9 431.7,44 434.1,43.8 436.5,43.6 438.9,43.4 441.3,43.5 443.7,43.7 446.1,43.9 448.5,44.1 450.9,44.2 453.3,44.4 455.7,44.5 458.1,44.7 460.5,44.8 462.9,44.9 465.3,45 467.7,45.1 470.1,45.1 472.5,45.2 474.8,45.3 477.2,45.3 479.6,45.4 482,45.4 484.4,45.5 486.8,45.5 489.2,45.6 491.6,45.6 494,45.7 496.4,45.7 498.8,45.8 501.2,45.8 503.6,45.9 506,45.9 508.4,45.9 510.8,46 513.2,46 515.5,46.1 517.9,46.1 520.3,46.1 522.7,46.2 525.1,46.2 527.5,46.2 529.9,46.2 532.3,46.2 534.7,46.2 537.1,46.2 539.5,46.2 541.9,46.2 544.3,46.2 546.7,46.2 549.1,46.2 551.5,46.2 553.9,46.2 556.3,46.2 558.6,46.2 561,46.2 563.4,46.2 565.8,46.2 568.2,46.2 570.6,46.2 573,46.1 575.4,46.1 577.8,46 580.2,46 582.6,45.9 585,45.8 587.4,45.8 589.8,45.7 592.2,45.6 594.6,45.5 597,45.4 599.4,45.4 601.7,45.3 604.1,45.2 606.5,45.2 608.9,45.1 611.3,45 613.7,45 616.1,44.9 618.5,44.8 620.9,44.7 623.3,44.7 625.7,44.6 628.1,44.5 630.5,44.5 632.9,44.5 635.3,44.4 637.7,44.4 640.1,44.4 642.5,44.4 644.8,44.4 647.2,44.4 649.6,44.4 652,44.4 654.4,44.4 656.8,44.4 659.2,44.4 661.6,44.4 664,44.4 666.4,44.4 668.8,44.4 671.2,44.4 673.6,44.4 676,44.4 678.4,44.4 680.8,44.5 683.2,44.5 685.6,44.5 687.9,44.5 690.3,44.6 692.7,44.6 695.1,44.7 697.5,44.7 699.9,44.7 702.3,44.7 704.7,44.8 707.1,44.8 709.5,44.8 711.9,44.8 714.3,44.8 716.7,44.8 719.1,44.7 721.5,44.7 723.9,44.7 726.3,44.7 728.7,44.7 731,44.6 733.4,44.6 735.8,44.6 738.2,44.5 740.6,44.5 743,44.5 745.4,44.4 747.8,44.4 750.2,44.3 752.6,44.2 755,44.1 757.4,44 759.8,43.9 762.2,43.8 764.6,43.8 767,43.7 769.4,43.7 771.8,43.7 774.1,43.7 776.5,43.7 778.9,43.7 781.3,43.7 783.7,43.7 786.1,43.7 788.5,43.7 790.9,43.7 793.3,43.7" fill="none" stroke="#800000" stroke-width="0.8" stroke-linejoin="round" marker-start="url(#m9)" marker-mid="url(#m9)" marker-end="url(#m9)"/>
<polyline points="194.7,46.2 197.1,46.2 199.5,46.2 201.9,46.2 204.3,46.2 206.7,46.2 209.1,46.2 211.5,46.2 213.9,46.2 216.2,46.2 218.6,46.2 221,46.2 223.4,46.2 225.8,46.2 228.2,46.2 230.6,46.2 233,46.2 235.4,46.2 237.8,46.2 240.2,46.2 242.6,46.2 245,46.2 247.4,46.2 249.8,46.2 252.2,46.2 254.6,46.2 257,46.2 259.3,46.2 261.7,46.2 264.1,46.2 266.5,46.2 268.9,46.2 271.3,46.2 273.7,46.2 276.1,46.2 278.5,46.2 280.9,46.2 283.3,46.2 285.7,46.2 288.1,46.2 290.5,46.2 292.9,46.2 295.3,46.2 297.7,46.2 300.1,46.2 302.4,46.2 304.8,46.2 307.2,46.2 309.6,46.2 312,46.2 314.4,46.2 316.8,46.2 319.2,46.2 321.6,46.2 324,46.2 326.4,46.2 328.8,46.2 331.2,46.2 333.6,46.2 336,46.3 338.4,46.5 340.8,46.7 343.2,46.9 345.5,47.1 347.9,47.3 350.3,47.5 352.7,47.8 355.1,48.1 357.5,48.5 359.9,49 362.3,49.4 364.7,49.9 367.1,50.4 369.5,51 371.9,51.5 374.3,52.2 376.7,52.8 379.1,53.4 381.5,54 383.9,54.5 386.3,55 388.6,55.1 391,55.1 393.4,55 395.8,54.7 398.2,53.2 400.6,52.9 403,52.7 405.4,52.5 407.8,52.1 410.2,51.6 412.6,51 415,50.2 417.4,48.9 419.8,46.3 422.2,44.4 424.6,42.8 427,41.9 429.4,41.6 431.7,41.4 434.1,41.3 436.5,41.4 438.9,41.7 441.3,42 443.7,42.3 446.1,42.7 448.5,43 450.9,43.3 453.3,43.5 455.7,43.6 458.1,43.7 460.5,43.8 462.9,43.9 465.3,43.9 467.7,43.9 470.1,44 472.5,44 474.8,44 477.2,44 479.6,44 482,44.1 484.4,44.1 486.8,44.1 489.2,44.1 491.6,44.1 494,44.1 496.4,44.2 498.8,44.2 501.2,44.2 503.6,44.2 506,44.3 508.4,44.3 510.8,44.3 513.2,44.4 515.5,44.4 517.9,44.5 520.3,44.5 522.7,44.6 525.1,44.6 527.5,44.7 529.9,44.7 532.3,44.8 534.7,44.9 537.1,44.9 539.5,45 541.9,45 544.3,45.1 546.7,45.2 549.1,45.2 551.5,45.3 553.9,45.3 556.3,45.4 558.6,45.4 561,45.4 563.4,45.5 565.8,45.5 568.2,45.5 570.6,45.5 573,45.6 575.4,45.6 577.8,45.6 580.2,45.6 582.6,45.6 585,45.6 587.4,45.6 589.8,45.7 592.2,45.7 594.6,45.7 597,45.7 599.4,45.6 601.7,45.5 604.1,45.4 606.5,45.2 608.9,45.1 611.3,44.9 613.7,44.8 616.1,44.6 618.5,44.4 620.9,44.1 623.3,43.9 625.7,43.6 628.1,43.5 630.5,43.4 632.9,43.4 635.3,43.4 637.7,43.4 640.1,43.4 642.5,43.4 644.8,43.4 647.2,43.4 649.6,43.4 652,43.4 654.4,43.6 656.8,43.8 659.2,44 661.6,44.3 664,44.5 666.4,44.7 668.8,44.8 671.2,44.9 673.6,45 676,45.1 678.4,45.2 680.8,45.3 683.2,45.4 685.6,45.5 687.9,45.5 690.3,45.6 692.7,45.6 695.1,45.7 697.5,45.7 699.9,45.7 702.3,45.6 704.7,45.6 707.1,45.6 709.5,45.5 711.9,45.5 714.3,45.4 716.7,45.3 719.1,45.3 721.5,45.2 723.9,45.1 726.3,45.1 728.7,45 731,45 733.4,45 735.8,44.9 738.2,44.9 740.6,44.9 743,44.8 745.4,44.8 747.8,44.8 750.2,44.7 752.6,44.7 755,44.7 757.4,44.7 759.8,44.6 762.2,44.6 764.6,44.6 767,44.6 769.4,44.6 771.8,44.6 774.1,44.6 776.5,44.6 778.9,44.6 781.3,44.6 783.7,44.6 786.1,44.6 788.5,44.6 790.9,44.6 793.3,44.6" fill="none" stroke="#808000" stroke-width="0.8" stroke-linejoin="round" marker-start="url(#m10)" marker-mid="url(#m10)" marker-end="url(#m10)"/>
<polyline points="194.7,46.2 197.1,46.2 199.5,46.2 201.9,46.2 204.3,46.2 206.7,46.2 209.1,46.2 211.5,46.2 213.9,46.2 216.2,46.2 218.6,46.2 221,46.2 223.4,46.2 225.8,46.2 228.2,46.2 230.6,46.2 233,46.2 235.4,46.2 237.8,46.2 240.2,46.2 242.6,46.2 245,46.2 247.4,46.2 249.8,46.2 252.2,46.2 254.6,46.2 257,46.2 259.3,46.2 261.7,46.2 264.1,46.2 266.5,46.2 268.9,46.2 271.3,46.2 273.7,46.2 276.1,46.2 278.5,46.2 280.9,46.2 283.3,46.2 285.7,46.2 288.1,46.2 290.5,46.2 292.9,46.2 295.3,46.2 297.7,46.2 300.1,46.2 302.4,46.2 304.8,46.2 307.2,46.2 309.6,46.2 312,46.2 314.4,46.2 316.8,46.2 319.2,46.2 321.6,46.2 324,46.2 326.4,46.2 328.8,46.2 331.2,46.2 333.6,46.2 336,46.2 338.4,46.2 340.8,46.2 343.2,46.2 345.5,46.2 347.9,46.2 350.3,46.2 352.7,46.2 355.1,46.2 357.5,46.2 359.9,46.2 362.3,46.2 364.7,46.2 367.1,46.2 369.5,46.2 371.9,46.4 374.3,46.7 376.7,47.1 379.1,47.4 381.5,47.9 383.9,48.4 386.3,49 388.6,49.5 391,50.2 393.4,50.8 395.8,51.3 398.2,51.8 400.6,52.3 403,52.7 405.4,53.1 407.8,53.3 410.2,53.3 412.6,53.3 415,52.3 417.4,51.7 419.8,51.5 422.2,51.4 424.6,51.2 427,50.9 429.4,50.6 431.7,50.2 434.1,49.7 436.5,49.1 438.9,48.3 441.3,47.1 443.7,45.7 446.1,43.9 448.5,42.3 450.9,41.5 453.3,40.9 455.7,40.5 458.1,40.6 460.5,40.9 462.9,41.2 465.3,41.6 467.7,42.2 470.1,42.8 472.5,43 474.8,43.2 477.2,43.3 479.6,43.3 482,43.4 484.4,43.5 486.8,43.5 489.2,43.5 491.6,43.6 494,43.6 496.4,43.6 498.8,43.6 501.2,43.7 503.6,43.7 506,43.7 508.4,43.8 510.8,43.8 513.2,43.8 515.5,43.9 517.9,43.9 520.3,43.9 522.7,44 525.1,44 527.5,44 529.9,44.1 532.3,44.1 534.7,44.2 537.1,44.2 539.5,44.3 541.9,44.3 544.3,44.4 546.7,44.5 549.1,44.6 551.5,44.6 553.9,44.7 556.3,44.8 558.6,44.9 561,45 563.4,45.1 565.8,45.1 568.2,45.2 570.6,45.3 573,45.4 575.4,45.5 577.8,45.6 580.2,45.7 582.6,45.8 585,45.8 587.4,45.9 589.8,46 592.2,46.1 594.6,46.1 597,46.2 599.4,46.2 601.7,46.2 604.1,46.2 606.5,46.2 608.9,46.2 611.3,46.1 613.7,46.1 616.1,46.1 618.5,46 620.9,46 623.3,46 625.7,45.9 628.1,45.9 630.5,45.9 632.9,45.9 635.3,45.8 637.7,45.8 640.1,45.8 642.5,45.9 644.8,45.9 647.2,45.9 649.6,46 652,46 654.4,46 656.8,46.1 659.2,46.2 661.6,46.2 664,46.3 666.4,46.4 668.8,46.4 671.2,46.5 673.6,46.6 676,46.6 678.4,46.8 680.8,46.9 683.2,47 685.6,47.2 687.9,47.3 690.3,47.4 692.7,47.5 695.1,47.6 697.5,47.6 699.9,47.6 702.3,47.6 704.7,47.6 707.1,47.6 709.5,47.6 711.9,47.6 714.3,47.6 716.7,47.6 719.1,47.5 721.5,47.3 723.9,47.1 726.3,46.8 728.7,46.6 731,46.4 733.4,46.3 735.8,46.2 738.2,46.2 740.6,46.2 743,46.3 745.4,46.3 747.8,46.4 750.2,46.4 752.6,46.5 755,46.5 757.4,46.6 759.8,46.6 762.2,46.6 764.6,46.6 767,46.7 769.4,46.7 771.8,46.7 774.1,46.8 776.5,46.8 778.9,46.8 781.3,46.8 783.7,46.8 786.1,46.9 788.5,46.9 790.9,46.9 793.3,46.9" fill="none" stroke="#2a5cb0" stroke-width="0.8" stroke-linejoin="round" marker-start="url(#m11)" marker-mid="url(#m11)" marker-end="url(#m11)"/>
<polyline points="194.7,46.2 197.1,46.2 199.5,46.2 201.9,46.2 204.3,46.2 206.7,46.2 209.1,46.2 211.5,46.2 213.9,46.2 216.2,46.2 218.6,46.2 221,46.2 223.4,46.2 225.8,46.2 228.2,46.2 230.6,46.2 233,46.2 235.4,46.2 237.8,46.2 240.2,46.2 242.6,46.2 245,46.2 247.4,46.2 249.8,46.2 252.2,46.2 254.6,46.2 257,46.2 259.3,46.2 261.7,46.2 264.1,46.2 266.5,46.2 268.9,46.2 271.3,46.2 273.7,46.2 276.1,46.2 278.5,46.2 280.9,46.2 283.3,46.2 285.7,46.2 288.1,46.2 290.5,46.2 292.9,46.2 295.3,46.2 297.7,46.2 300.1,46.2 302.4,46.2 304.8,46.2 307.2,46.2 309.6,46.2 312,46.2 314.4,46.2 316.8,46.2 319.2,46.2 321.6,46.2 324,46.2 326.4,46.2 328.8,46.2 331.2,46.2 333.6,46.2 336,46.2 338.4,46.2 340.8,46.2 343.2,46.2 345.5,46.2 347.9,46.2 350.3,46.2 352.7,46.2 355.1,46.2 357.5,46.2 359.9,46.2 362.3,46.2 364.7,46.2 367.1,46.2 369.5,46.2 371.9,46.2 374.3,46.2 376.7,46.2 379.1,46.2 381.5,46.2 383.9,46.2 386.3,46.2 388.6,46.4 391,46.7 393.4,47.1 395.8,47.4 398.2,47.7 400.6,48.1 403,48.4 405.4,48.8 407.8,49.2 410.2,49.6 412.6,49.9 415,50.3 417.4,50.6 419.8,51 422.2,51.3 424.6,51.6 427,51.8 429.4,52.1 431.7,52.3 434.1,52.5 436.5,52.6 438.9,52.6 441.3,52.3 443.7,51.8 446.1,51.4 448.5,51 450.9,50.5 453.3,50 455.7,49.3 458.1,48.6 460.5,47.7 462.9,46.7 465.3,45.4 467.7,44.2 470.1,43.3 472.5,42.6 474.8,42.1 477.2,41.8 479.6,41.6 482,41.7 484.4,42 486.8,42.3 489.2,42.6 491.6,42.9 494,43.2 496.4,43.4 498.8,43.5 501.2,43.6 503.6,43.7 506,43.8 508.4,43.8 510.8,43.9 513.2,44 515.5,44 517.9,44 520.3,44.1 522.7,44.1 525.1,44.1 527.5,44.1 529.9,44.2 532.3,44.2 534.7,44.2 537.1,44.2 539.5,44.3 541.9,44.3 544.3,44.3 546.7,44.4 549.1,44.4 551.5,44.5 553.9,44.5 556.3,44.6 558.6,44.6 561,44.7 563.4,44.7 565.8,44.8 568.2,44.8 570.6,44.9 573,44.9 575.4,45 577.8,45.1 580.2,45.1 582.6,45.2 585,45.3 587.4,45.3 589.8,45.4 592.2,45.4 594.6,45.4 597,45.5 599.4,45.5 601.7,45.5 604.1,45.5 606.5,45.5 608.9,45.5 611.3,45.4 613.7,45.4 616.1,45.4 618.5,45.3 620.9,45.3 623.3,45.3 625.7,45.2 628.1,45.2 630.5,45.2 632.9,45.2 635.3,45.1 637.7,45.1 640.1,45.1 642.5,45.2 644.8,45.2 647.2,45.3 649.6,45.4 652,45.4 654.4,45.5 656.8,45.6 659.2,45.7 661.6,45.8 664,45.9 666.4,46 668.8,46.1 671.2,46.1 673.6,46.2 676,46.2 678.4,46.3 680.8,46.3 683.2,46.4 685.6,46.4 687.9,46.4 690.3,46.4 692.7,46.5 695.1,46.5 697.5,46.5 699.9,46.6 702.3,46.6 704.7,46.6 707.1,46.7 709.5,46.7 711.9,46.8 714.3,46.8 716.7,46.9 719.1,47 721.5,47.1 723.9,47.1 726.3,47.2 728.7,47.3 731,47.4 733.4,47.5 735.8,47.6 738.2,47.7 740.6,47.9 743,48 745.4,48.2 747.8,48.3 750.2,48.4 752.6,48.6 755,48.7 757.4,48.9 759.8,49 762.2,49.1 764.6,49.2 767,49.3 769.4,49.4 771.8,49.5 774.1,49.5 776.5,49.6 778.9,49.6 781.3,49.6 783.7,49.5 786.1,49.4 788.5,49.3 790.9,49 793.3,48.5" fill="none" stroke="#2ea0a0" stroke-width="0.8" stroke-linejoin="round" marker-start="url(#m12)" marker-mid="url(#m12)" marker-end="url(#m12)"/>
<polyline points="194.7,46.2 197.1,46.2 199.5,46.2 201.9,46.2 204.3,46.2 206.7,46.2 209.1,46.2 211.5,46.2 213.9,46.2 216.2,46.2 218.6,46.2 221,46.2 223.4,46.2 225.8,46.2 228.2,46.2 230.6,46.2 233,46.2 235.4,46.2 237.8,46.2 240.2,46.2 242.6,46.2 245,46.2 247.4,46.2 249.8,46.2 252.2,46.2 254.6,46.2 257,46.2 259.3,46.2 261.7,46.2 264.1,46.2 266.5,46.2 268.9,46.2 271.3,46.2 273.7,46.2 276.1,46.2 278.5,46.2 280.9,46.2 283.3,46.2 285.7,46.2 288.1,46.2 290.5,46.2 292.9,46.2 295.3,46.2 297.7,46.2 300.1,46.2 302.4,46.2 304.8,46.2 307.2,46.2 309.6,46.2 312,46.2 314.4,46.2 316.8,46.2 319.2,46.2 321.6,46.2 324,46.2 326.4,46.2 328.8,46.2 331.2,46.2 333.6,46.2 336,46.2 338.4,46.2 340.8,46.2 343.2,46.2 345.5,46.2 347.9,46.2 350.3,46.2 352.7,46.2 355.1,46.2 357.5,46.2 359.9,46.2 362.3,46.2 364.7,46.2 367.1,46.2 369.5,46.2 371.9,46.2 374.3,46.2 376.7,46.2 379.1,46.2 381.5,46.2 383.9,46.2 386.3,46.2 388.6,46.2 391,46.2 393.4,46.2 395.8,46.2 398.2,46.2 400.6,46.2 403,46.2 405.4,46.2 407.8,46.2 410.2,46.5 412.6,46.9 415,47.3 417.4,47.6 419.8,47.9 422.2,48.2 424.6,48.5 427,48.8 429.4,49.1 431.7,49.4 434.1,49.7 436.5,50.1 438.9,50.4 441.3,50.7 443.7,51.1 446.1,51.4 448.5,51.7 450.9,51.9 453.3,52 455.7,52 458.1,52.1 460.5,51.9 462.9,51.7 465.3,51.4 467.7,51.1 470.1,50.8 472.5,50.5 474.8,50.1 477.2,49.6 479.6,49 482,48.3 484.4,47.5 486.8,46.5 489.2,45.5 491.6,44.6 494,43.7 496.4,43.1 498.8,42.6 501.2,42.4 503.6,42.3 506,42.3 508.4,42.4 510.8,42.6 513.2,42.9 515.5,43.1 517.9,43.4 520.3,43.6 522.7,43.8 525.1,44 527.5,44.1 529.9,44.3 532.3,44.4 534.7,44.4 537.1,44.5 539.5,44.7 541.9,44.8 544.3,44.9 546.7,45 549.1,45.1 551.5,45.2 553.9,45.3 556.3,45.4 558.6,45.5 561,45.6 563.4,45.7 565.8,45.8 568.2,45.9 570.6,46 573,46.1 575.4,46.2 577.8,46.3 580.2,46.4 582.6,46.5 585,46.6 587.4,46.6 589.8,46.7 592.2,46.8 594.6,46.9 597,47 599.4,47.1 601.7,47.3 604.1,47.4 606.5,47.5 608.9,47.6 611.3,47.7 613.7,47.8 616.1,47.8 618.5,47.9 620.9,47.9 623.3,48 625.7,48 628.1,48 630.5,47.9 632.9,47.9 635.3,47.8 637.7,47.7 640.1,47.6 642.5,47.5 644.8,47.3 647.2,47.2 649.6,47.1 652,46.9 654.4,46.7 656.8,46.5 659.2,46.3 661.6,46 664,45.7 666.4,45.5 668.8,45.2 671.2,44.8 673.6,44.4 676,44 678.4,43.7 680.8,43.4 683.2,43.1 685.6,42.9 687.9,42.7 690.3,42.6 692.7,42.7 695.1,42.8 697.5,43 699.9,43.2 702.3,43.4 704.7,43.7 707.1,44.1 709.5,44.6 711.9,45.2 714.3,45.7 716.7,46.2 719.1,46.6 721.5,47 723.9,47.4 726.3,47.8 728.7,48.2 731,48.5 733.4,48.8 735.8,49.2 738.2,49.5 740.6,49.8 743,50 745.4,50.2 747.8,50.5 750.2,50.6 752.6,50.8 755,50.8 757.4,50.8 759.8,50.8 762.2,50.8 764.6,50.8 767,50.8 769.4,50.8 771.8,50.6 774.1,50.4 776.5,50.2 778.9,50 781.3,49.8 783.7,49.5 786.1,49.2 788.5,48.8 790.9,48.3 793.3,47.6" fill="none" stroke="#b8905c" stroke-width="0.8" stroke-linejoin="round" marker-start="url(#m13)" marker-mid="url(#m13)" marker-end="url(#m13)"/>
<polyline points="194.7,46.2 197.1,46.2 199.5,46.2 201.9,46.2 204.3,46.2 206.7,46.2 209.1,46.2 211.5,46.2 213.9,46.2 216.2,46.2 218.6,46.2 221,46.2 223.4,46.2 225.8,46.2 228.2,46.2 230.6,46.2 233,46.2 235.4,46.2 237.8,46.2 240.2,46.2 242.6,46.2 245,46.2 247.4,46.2 249.8,46.2 252.2,46.2 254.6,46.2 257,46.2 259.3,46.2 261.7,46.2 264.1,46.2 266.5,46.2 268.9,46.2 271.3,46.2 273.7,46.2 276.1,46.2 278.5,46.2 280.9,46.2 283.3,46.2 285.7,46.2 288.1,46.2 290.5,46.2 292.9,46.2 295.3,46.2 297.7,46.2 300.1,46.2 302.4,46.2 304.8,46.2 307.2,46.2 309.6,46.2 312,46.2 314.4,46.2 316.8,46.2 319.2,46.2 321.6,46.2 324,46.2 326.4,46.2 328.8,46.2 331.2,46.2 333.6,46.2 336,46.2 338.4,46.2 340.8,46.2 343.2,46.2 345.5,46.2 347.9,46.2 350.3,46.2 352.7,46.2 355.1,46.2 357.5,46.2 359.9,46.2 362.3,46.2 364.7,46.2 367.1,46.2 369.5,46.2 371.9,46.2 374.3,46.2 376.7,46.2 379.1,46.2 381.5,46.2 383.9,46.2 386.3,46.2 388.6,46.2 391,46.2 393.4,46.2 395.8,46.2 398.2,46.2 400.6,46.2 403,46.2 405.4,46.2 407.8,46.2 410.2,46.2 412.6,46.2 415,46.2 417.4,46.2 419.8,46.2 422.2,46.2 424.6,46.2 427,46.2 429.4,46.2 431.7,46.2 434.1,46.2 436.5,46.3 438.9,46.6 441.3,46.9 443.7,47.3 446.1,47.7 448.5,48.2 450.9,48.6 453.3,49 455.7,49.4 458.1,49.7 460.5,50.1 462.9,50.4 465.3,50.7 467.7,50.9 470.1,51 472.5,51.1 474.8,51.1 477.2,51.2 479.6,51.1 482,50.8 484.4,50.5 486.8,50.2 489.2,49.8 491.6,49.4 494,49 496.4,48.5 498.8,47.9 501.2,47.2 503.6,46.5 506,45.5 508.4,44.6 510.8,43.9 513.2,43.3 515.5,42.8 517.9,42.2 520.3,41.9 522.7,41.9 525.1,41.9 527.5,41.9 529.9,42.1 532.3,42.4 534.7,42.7 537.1,43 539.5,43.3 541.9,43.6 544.3,43.9 546.7,44.2 549.1,44.3 551.5,44.5 553.9,44.6 556.3,44.8 558.6,44.9 561,45 563.4,45.1 565.8,45.2 568.2,45.3 570.6,45.5 573,45.6 575.4,45.7 577.8,45.9 580.2,46 582.6,46.2 585,46.3 587.4,46.5 589.8,46.7 592.2,46.9 594.6,47.1 597,47.4 599.4,47.7 601.7,48.1 604.1,48.4 606.5,48.8 608.9,49.2 611.3,49.6 613.7,50 616.1,50.2 618.5,50.5 620.9,50.7 623.3,50.9 625.7,51 628.1,51.1 630.5,51.2 632.9,51.3 635.3,51.4 637.7,51.3 640.1,51.2 642.5,51.1 644.8,50.9 647.2,50.7 649.6,50.4 652,50 654.4,49.5 656.8,49.1 659.2,48.6 661.6,47.9 664,47.3 666.4,46.8 668.8,46.3 671.2,45.8 673.6,45.4 676,45 678.4,44.6 680.8,44.3 683.2,44 685.6,43.8 687.9,43.5 690.3,43.3 692.7,43.2 695.1,43.2 697.5,43.5 699.9,43.8 702.3,44.2 704.7,44.6 707.1,45.2 709.5,45.7 711.9,46.2 714.3,46.7 716.7,47.2 719.1,47.7 721.5,48.3 723.9,48.8 726.3,49.3 728.7,49.7 731,50.2 733.4,50.5 735.8,50.9 738.2,51.2 740.6,51.5 743,51.7 745.4,51.9 747.8,51.9 750.2,52 752.6,52 755,52.1 757.4,52 759.8,51.9 762.2,51.7 764.6,51.5 767,51.3 769.4,51 771.8,50.6 774.1,50.3 776.5,49.9 778.9,49.5 781.3,49.1 783.7,48.7 786.1,48.3 788.5,47.8 790.9,47.3 793.3,46.7 793.9,46.6" fill="none" stroke="#2ed35a" stroke-width="0.8" stroke-linejoin="round" marker-start="url(#m14)" marker-mid="url(#m14)" marker-end="url(#m14)"/>
<polyline points="194.7,46.2 197.1,46.2 199.5,46.2 201.9,46.2 204.3,46.2 206.7,46.2 209.1,46.2 211.5,46.2 213.9,46.2 216.2,46.2 218.6,46.2 221,46.2 223.4,46.2 225.8,46.2 228.2,46.2 230.6,46.2 233,46.2 235.4,46.2 237.8,46.2 240.2,46.2 242.6,46.2 245,46.2 247.4,46.2 249.8,46.2 252.2,46.2 254.6,46.2 257,46.2 259.3,46.2 261.7,46.2 264.1,46.2 266.5,46.2 268.9,46.2 271.3,46.2 273.7,46.2 276.1,46.2 278.5,46.2 280.9,46.2 283.3,46.2 285.7,46.2 288.1,46.2 290.5,46.2 292.9,46.2 295.3,46.2 297.7,46.2 300.1,46.2 302.4,46.2 304.8,46.2 307.2,46.2 309.6,46.2 312,46.2 314.4,46.2 316.8,46.2 319.2,46.2 321.6,46.2 324,46.2 326.4,46.2 328.8,46.2 331.2,46.2 333.6,46.2 336,46.2 338.4,46.2 340.8,46.2 343.2,46.2 345.5,46.2 347.9,46.2 350.3,46.2 352.7,46.2 355.1,46.2 357.5,46.2 359.9,46.2 362.3,46.2 364.7,46.2 367.1,46.2 369.5,46.2 371.9,46.2 374.3,46.2 376.7,46.2 379.1,46.2 381.5,46.2 383.9,46.2 386.3,46.2 388.6,46.2 391,46.2 393.4,46.2 395.8,46.2 398.2,46.2 400.6,46.2 403,46.2 405.4,46.2 407.8,46.2 410.2,46.2 412.6,46.2 415,46.2 417.4,46.2 419.8,46.2 422.2,46.2 424.6,46.2 427,46.2 429.4,46.2 431.7,46.2 434.1,46.2 436.5,46.2 438.9,46.2 441.3,46.2 443.7,46.2 446.1,46.2 448.5,46.2 450.9,46.2 453.3,46.2 455.7,46.4 458.1,46.8 460.5,47.2 462.9,47.5 465.3,47.8 467.7,48.1 470.1,48.4 472.5,48.6 474.8,48.9 477.2,49.2 479.6,49.5 482,49.8 484.4,50 486.8,50.1 489.2,50.3 491.6,50.4 494,50.5 496.4,50.4 498.8,50.3 501.2,50.1 503.6,50 506,49.8 508.4,49.7 510.8,49.5 513.2,49.3 515.5,49.1 517.9,48.9 520.3,48.7 522.7,48.3 525.1,47.9 527.5,46.8 529.9,45.7 532.3,44.6 534.7,44 537.1,43.6 539.5,43.4 541.9,43.3 544.3,43.2 546.7,43.2 549.1,43.2 551.5,43.4 553.9,43.7 556.3,43.9 558.6,44.2 561,44.5 563.4,44.8 565.8,45.1 568.2,45.3 570.6,45.6 573,45.8 575.4,46 577.8,46.2 580.2,46.4 582.6,46.7 585,46.9 587.4,47.1 589.8,47.4 592.2,47.6 594.6,47.8 597,48 599.4,48.2 601.7,48.4 604.1,48.6 606.5,48.8 608.9,49 611.3,49.1 613.7,49.2 616.1,49.3 618.5,49.4 620.9,49.4 623.3,49.4 625.7,49.4 628.1,49.4 630.5,49.3 632.9,49.3 635.3,49.3 637.7,49.1 640.1,48.9 642.5,48.7 644.8,48.6 647.2,48.4 649.6,48.2 652,48 654.4,47.8 656.8,47.7 659.2,47.6 661.6,47.6 664,47.6 666.4,47.6 668.8,47.6 671.2,47.6 673.6,47.6 676,47.6 678.4,47.6 680.8,47.6 683.2,47.6 685.6,47.5 687.9,47.3 690.3,47.1 692.7,47 695.1,46.8 697.5,46.7 699.9,46.6 702.3,46.7 704.7,46.7 707.1,46.8 709.5,46.8 711.9,46.9 714.3,47 716.7,47.1 719.1,47.3 721.5,47.5 723.9,47.6 726.3,47.9 728.7,48.1 731,48.5 733.4,48.8 735.8,49.2 738.2,49.4 740.6,49.6 743,49.9 745.4,50.1 747.8,50.2 750.2,50.3 752.6,50.3 755,50.2 757.4,50.1 759.8,50 762.2,49.8 764.6,49.6 767,49.2 769.4,48.9 771.8,48.6 774.1,48.3 776.5,48 778.9,47.7 781.3,47.5 783.7,47.3 786.1,47.1 788.5,46.9 790.9,46.9 793.3,46.9" fill="none" stroke="#a8308c" stroke-width="0.8" stroke-linejoin="round"/>
<polyline points="194.7,46.2 197.1,46.2 199.5,46.2 201.9,46.2 204.3,46.2 206.7,46.2 209.1,46.2 211.5,46.2 213.9,46.2 216.2,46.2 218.6,46.2 221,46.2 223.4,46.2 225.8,46.2 228.2,46.2 230.6,46.2 233,46.2 235.4,46.2 237.8,46.2 240.2,46.2 242.6,46.2 245,46.2 247.4,46.2 249.8,46.2 252.2,46.2 254.6,46.2 257,46.2 259.3,46.2 261.7,46.2 264.1,46.2 266.5,46.2 268.9,46.2 271.3,46.2 273.7,46.2 276.1,46.2 278.5,46.2 280.9,46.2 283.3,46.2 285.7,46.2 288.1,46.2 290.5,46.2 292.9,46.2 295.3,46.2 297.7,46.2 300.1,46.2 302.4,46.2 304.8,46.2 307.2,46.2 309.6,46.2 312,46.2 314.4,46.2 316.8,46.2 319.2,46.2 321.6,46.2 324,46.2 326.4,46.2 328.8,46.2 331.2,46.2 333.6,46.2 336,46.2 338.4,46.2 340.8,46.2 343.2,46.2 345.5,46.2 347.9,46.2 350.3,46.2 352.7,46.2 355.1,46.2 357.5,46.2 359.9,46.2 362.3,46.2 364.7,46.2 367.1,46.2 369.5,46.2 371.9,46.2 374.3,46.2 376.7,46.2 379.1,46.2 381.5,46.2 383.9,46.2 386.3,46.2 388.6,46.2 391,46.2 393.4,46.2 395.8,46.2 398.2,46.2 400.6,46.2 403,46.2 405.4,46.2 407.8,46.2 410.2,46.2 412.6,46.2 415,46.2 417.4,46.2 419.8,46.2 422.2,46.2 424.6,46.2 427,46.2 429.4,46.2 431.7,46.2 434.1,46.2 436.5,46.2 438.9,46.2 441.3,46.2 443.7,46.2 446.1,46.2 448.5,46.2 450.9,46.2 453.3,46.2 455.7,46.2 458.1,46.2 460.5,46.2 462.9,46.2 465.3,46.2 467.7,46.2 470.1,46.2 472.5,46.2 474.8,46.3 477.2,46.6 479.6,47 482,47.4 484.4,47.7 486.8,47.8 489.2,48 491.6,48.2 494,48.3 496.4,48.5 498.8,48.7 501.2,49 503.6,49.2 506,49.3 508.4,49.5 510.8,49.7 513.2,49.8 515.5,49.9 517.9,50 520.3,50 522.7,50.1 525.1,50.1 527.5,50 529.9,49.8 532.3,49.6 534.7,49.4 537.1,49.3 539.5,49.1 541.9,48.9 544.3,48.7 546.7,48.5 549.1,48.1 551.5,47.4 553.9,46.7 556.3,46.1 558.6,45.8 561,45.5 563.4,45.3 565.8,45.3 568.2,45.3 570.6,45.3 573,45.3 575.4,45.4 577.8,45.5 580.2,45.6 582.6,45.8 585,46 587.4,46.1 589.8,46.3 592.2,46.5 594.6,46.7 597,46.9 599.4,47.1 601.7,47.3 604.1,47.5 606.5,47.6 608.9,47.6 611.3,47.6 613.7,47.5 616.1,47.4 618.5,47.3 620.9,47.1 623.3,46.6 625.7,46.2 628.1,45.8 630.5,45.6 632.9,45.5 635.3,45.4 637.7,45.4 640.1,45.3 642.5,45.3 644.8,45.5 647.2,45.7 649.6,46 652,46.4 654.4,46.7 656.8,47.2 659.2,47.6 661.6,48.1 664,48.6 666.4,49 668.8,49.4 671.2,49.8 673.6,50.2 676,50.5 678.4,50.7 680.8,50.9 683.2,51.1 685.6,51.2 687.9,51.2 690.3,51.1 692.7,51.1 695.1,51 697.5,51 699.9,50.8 702.3,50.5 704.7,50.2 707.1,49.9 709.5,49.5 711.9,49 714.3,48.4 716.7,48 719.1,47.7 721.5,47.3 723.9,47.1 726.3,46.8 728.7,46.7 731,46.6 733.4,46.5 735.8,46.4 738.2,46.3 740.6,46.3 743,46.3 745.4,46.2 747.8,46.2 750.2,46.2 752.6,46.2 755,46.2 757.4,46.3 759.8,46.3 762.2,46.4 764.6,46.5 767,46.6 769.4,46.6 771.8,46.7 774.1,46.8 776.5,46.8 778.9,46.9 781.3,46.9 783.7,46.9 786.1,46.9 788.5,46.9 790.9,46.9 793.3,46.9" fill="none" stroke="#4fd0d8" stroke-width="0.8" stroke-linejoin="round" marker-start="url(#m16)" marker-mid="url(#m16)" marker-end="url(#m16)"/>
<polyline points="194.7,46.2 197.1,46.2 199.5,46.2 201.9,46.2 204.3,46.2 206.7,46.2 209.1,46.2 211.5,46.2 213.9,46.2 216.2,46.2 218.6,46.2 221,46.2 223.4,46.2 225.8,46.2 228.2,46.2 230.6,46.2 233,46.2 235.4,46.2 237.8,46.2 240.2,46.2 242.6,46.2 245,46.2 247.4,46.2 249.8,46.2 252.2,46.2 254.6,46.2 257,46.2 259.3,46.2 261.7,46.2 264.1,46.2 266.5,46.2 268.9,46.2 271.3,46.2 273.7,46.2 276.1,46.2 278.5,46.2 280.9,46.2 283.3,46.2 285.7,46.2 288.1,46.2 290.5,46.2 292.9,46.2 295.3,46.2 297.7,46.2 300.1,46.2 302.4,46.2 304.8,46.2 307.2,46.2 309.6,46.2 312,46.2 314.4,46.2 316.8,46.2 319.2,46.2 321.6,46.2 324,46.2 326.4,46.2 328.8,46.2 331.2,46.2 333.6,46.2 336,46.2 338.4,46.2 340.8,46.2 343.2,46.2 345.5,46.2 347.9,46.2 350.3,46.2 352.7,46.2 355.1,46.2 357.5,46.2 359.9,46.2 362.3,46.2 364.7,46.2 367.1,46.2 369.5,46.2 371.9,46.2 374.3,46.2 376.7,46.2 379.1,46.2 381.5,46.2 383.9,46.2 386.3,46.2 388.6,46.2 391,46.2 393.4,46.2 395.8,46.2 398.2,46.2 400.6,46.2 403,46.2 405.4,46.2 407.8,46.2 410.2,46.2 412.6,46.2 415,46.2 417.4,46.2 419.8,46.2 422.2,46.2 424.6,46.2 427,46.2 429.4,46.2 431.7,46.2 434.1,46.2 436.5,46.2 438.9,46.2 441.3,46.2 443.7,46.2 446.1,46.2 448.5,46.2 450.9,46.2 453.3,46.2 455.7,46.2 458.1,46.2 460.5,46.2 462.9,46.2 465.3,46.2 467.7,46.2 470.1,46.2 472.5,46.2 474.8,46.2 477.2,46.2 479.6,46.2 482,46.2 484.4,46.2 486.8,46.2 489.2,46.2 491.6,46.3 494,46.5 496.4,46.7 498.8,47 501.2,47.3 503.6,47.5 506,47.8 508.4,48 510.8,48.3 513.2,48.5 515.5,48.8 517.9,49 520.3,49.3 522.7,49.5 525.1,49.8 527.5,50.1 529.9,50.4 532.3,50.8 534.7,51.1 537.1,51.4 539.5,51.7 541.9,51.9 544.3,52 546.7,52 549.1,52.1 551.5,52.1 553.9,50.1 556.3,49.8 558.6,49.6 561,49.4 563.4,49.1 565.8,48.8 568.2,48.4 570.6,47.9 573,47.4 575.4,46.9 577.8,46.3 580.2,45.7 582.6,45.1 585,44.5 587.4,43.9 589.8,43.5 592.2,43.1 594.6,42.7 597,42.4 599.4,42.2 601.7,42.1 604.1,41.9 606.5,41.9 608.9,42 611.3,42.3 613.7,42.4 616.1,42.5 618.5,42.6 620.9,42.8 623.3,43.1 625.7,43.5 628.1,43.8 630.5,44.2 632.9,44.6 635.3,45 637.7,45.3 640.1,45.7 642.5,46 644.8,46.2 647.2,46.6 649.6,46.9 652,47.3 654.4,47.8 656.8,48.3 659.2,48.8 661.6,49.3 664,49.8 666.4,50.3 668.8,50.8 671.2,51.2 673.6,51.5 676,51.8 678.4,52.1 680.8,52.3 683.2,52.6 685.6,52.8 687.9,53 690.3,53.1 692.7,53.2 695.1,53.3 697.5,53.3 699.9,53.3 702.3,53.1 704.7,52.8 707.1,52.5 709.5,52.2 711.9,51.7 714.3,51.1 716.7,50.5 719.1,49.8 721.5,49 723.9,48.2 726.3,47.4 728.7,46.6 731,45.7 733.4,44.9 735.8,44.1 738.2,43.5 740.6,42.9 743,42.4 745.4,42 747.8,41.7 750.2,41.5 752.6,41.9 755,42.5 757.4,42.6 759.8,42.8 762.2,43.1 764.6,43.7 767,44.3 769.4,44.9 771.8,45.3 774.1,45.8 776.5,46.2 778.9,46.6 781.3,47 783.7,47.5 786.1,47.9 788.5,48.3 790.9,48.6 793.3,48.9" fill="none" stroke="#3b489e" stroke-width="0.8" stroke-linejoin="round" marker-start="url(#m17)" marker-mid="url(#m17)" marker-end="url(#m17)"/>
</g>
<path d="M185.2 37.1H197.4M209 37.1H221M232.9 37.1H244.9M256.7 37.1H268.7M280.6 37.1H292.6M304.5 37.1H316.5M328.4 37.1H340.4M352.2 37.1H364.2M376.1 37.1H388.1M400 37.1H412M423.8 37.1H435.8M447.7 37.1H459.7M471.6 37.1H483.6M495.4 37.1H507.4M519.3 37.1H531.3M543.2 37.1H555.2M567 37.1H579M590.9 37.1H602.9M614.8 37.1H626.8M638.7 37.1H650.7M662.5 37.1H674.5M686.4 37.1H698.4M710.3 37.1H722.3M734.1 37.1H746.1M758 37.1H770M781.9 37.1H793.9M186.5 37.1V48.5M186.5 60.4V72.8M186.5 84.1V96.5M186.5 107.8V120.2M186.5 132V135.4M800.6 39.8V52M800.6 63.8V76M800.6 87.7V99.9M800.6 111.6V123.8M193.2 134.2H205M217 134.2H228.8M240.8 134.2H252.6M264.5 134.2H276.3M288.3 134.2H300.1M312.1 134.2H323.9M335.9 134.2H347.7M359.7 134.2H371.5M383.4 134.2H395.2M407.2 134.2H419M431 134.2H442.8M454.8 134.2H466.6M478.6 134.2H490.4M502.3 134.2H514.1M526.1 134.2H537.9M549.9 134.2H561.7M573.7 134.2H585.5M597.5 134.2H609.3M621.2 134.2H633M645 134.2H656.8M668.8 134.2H680.6M692.6 134.2H704.4M716.4 134.2H728.2M740.1 134.2H751.9M763.9 134.2H775.7M787.7 134.2H799.5M435.2 134.2V144.6M435.2 156.8V169M435.2 180.8V190" stroke="#ff0000" stroke-width="2.6" fill="none"/>
<path d="M430.8 187.8H439.6L435.2 201.8Z" fill="#ff0000"/>
<g id="inset-curves" clip-path="url(#insclip)">
<polyline points="285.9,216 288.1,308.9 290.3,480.9 292.5,928.7 294.6,1390.9 296.8,1466 299,1188.6 301.2,954.5 303.4,988.3 305.6,1108.6 307.8,1047 309.9,812.9 312.1,588.8 314.3,480.9 316.5,465.5 319.2,454.1 321.5,418.8 324.1,387.5 326.2,380.2 328.2,374 330.8,359 333.3,340.2 336.2,317.9 338.9,295.5 341.1,282.6 344.4,288.1 347.4,290.1 349.7,288 352,284.6 354.6,281.1 357.2,279.1 360.2,283.6 363.5,291.5 366.2,299.3 369,305.5 371,307.2 373,308.3 375,310.4 377.4,320.4 379.4,328.9 381.5,335.8 384.8,341.7 387.3,341.2 389.7,340.7 392.4,343.1 395.2,348.2 397.3,354.8 399.3,363.1 401.4,373 403.5,379 405.7,379 408.9,356.2 411.7,339.8 413.8,331.1 415.8,326.8 417.8,327.7 419.8,329.3 422.9,333.3 425.1,338.8 427.2,344.2 429.1,347.2 430.9,348.7 432.8,345 434.7,337.8 437.9,320.4 440,314.6 442.2,311.9 444.4,313.4 446.5,316.4 448.7,320.4 450.8,324.8 453.2,329.6 455.5,332.3 457.4,329.1 459.3,322.9 462.5,308.9 464.4,304.2 466.3,302 468.2,304.1 470,307.9 472.2,312.8 474.3,317.4 476.1,320.3 477.9,321.9 479.8,319.8 481.7,315.4 485,301.5 488.2,293 490.9,290.1 493.5,294 496,305.5 498.9,319.4 501.4,322.4 503.6,307.9 505.2,275.6 507.2,245.3 509.9,220 512.1,239.4 514.6,266.7 516.8,283.1 518.1,286.6 521.3,291.5 523.9,299.5 526,314.4 528.2,329.3 529.8,341.2 532.4,344.7 535.2,339.8 537.8,337.3 540.5,342.2 543.4,350.7 545.9,361.1 548.1,367.6 550.6,370.1 553.4,367.6 555.9,361.1 558.8,349.7 560.8,332.3 563,315.4 566.2,302.5 569.4,299.5 572,299 574.7,299.5 578,303.5 581.2,315.4 584.3,324.8 587,328.8 589.7,327.1 591.6,326 593.5,325.3 596.8,330.3 600.1,337.8 602.1,341.6 604.1,343.7 606.4,343.9 608.6,344 610.9,344.2 613.1,352.7 615.3,371.1 617.8,384 619.5,386 621.6,377.5 623.8,358.1 626,337.8 628.5,325.3 630.6,323.8 633.4,331.3 636.6,348.7 638.7,360.1 640.8,372.1 644.1,393.4 647.3,406.4 649.9,412.3 652.6,409.3 655.8,404.1 658.4,402.6 661.2,406.4 663,407.4 664.8,407.8 667,397.9 669,374 671.9,337.8 674,300.5 676,269.2 677.9,255.3 680.3,255 683.5,264.7 686.3,274.9 689,274.1 691.9,265.7 694.1,260 696.1,264.7 698,281.1 700.6,217.5" fill="none" stroke="#000000" stroke-width="0.8" stroke-linejoin="round" marker-start="url(#i1)" marker-mid="url(#i1)" marker-end="url(#i1)"/>
<polyline points="285.9,216 288.1,216 290.3,216 292.5,216 294.6,219 296.8,228.4 299,244.8 301.2,275.6 303.4,321.9 305.6,382 307.8,449.6 309.9,511.7 312.1,574.8 314.3,623.5 316.5,655.8 318.7,673.2 320.9,678.8 323.1,665.5 325.2,634.3 327.4,575.7 329.6,503.5 331.8,433 334,375.5 336.2,343.6 338.4,333.8 340.5,335.3 342.7,346.7 344.9,358.8 347.1,369.3 349.3,371.9 351.5,361.9 353.7,343.6 355.8,330.1 358,321.9 360.2,318.9 362.4,320.7 364.6,330 366.8,338.7 369,342.9 371.1,344.8 373.3,345.8 375.5,346.5 377.7,347.4 379.9,349 382.1,351.4 384.3,355.3 386.4,359 388.6,362.1 390.8,364.8 393,366.7 395.2,368.3 397.4,369.7 399.6,371 401.7,372 403.9,373.1 406.1,374.4 408.3,376 410.5,377.1 412.7,377.8 414.9,378 417,377.1 419.2,375.5 421.4,373.5 423.6,370.6 425.8,367.6 428,364.5 430.1,362.6 432.3,361.4 434.5,360.9 436.7,361.5 438.9,363 441.1,364.1 443.3,365.1 445.4,365.6 447.6,365 449.8,363.7 452,361.9 454.2,358.8 456.4,355.8 458.6,353.8 460.7,352.1 462.9,350.9 465.1,350.4 467.3,350.2 469.5,350 471.7,349.5 473.9,348.5 476,347.1 478.2,345.7 480.4,344.2 482.6,343.2 484.8,343.4 487,343.9 489.2,344.5 491.3,345.3 493.5,345.7 495.7,345.3 497.9,344.3 500.1,342.8 502.3,340.4 504.5,337.5 506.6,333.9 508.8,329.8 511,325.4 513.2,320.4 515.4,315 517.6,309 519.8,303 521.9,297.2 524.1,291.1 526.3,284.8 528.5,280.5 530.7,279.3 532.9,281.8 535.1,285.8 537.2,290.9 539.4,296 541.6,299.7 543.8,302.5 546,304.7 548.2,306.4 550.4,307.5 552.5,308.2 554.7,308.4 556.9,308.2 559.1,307.8 561.3,307.4 563.5,306.8 565.7,306.3 567.8,305.9 570,305.7 572.2,305.5 574.4,304.4 576.6,301.9 578.8,298.8 581,295.3 583.1,292.2 585.3,289.5 587.5,288.1 589.7,287.2 591.9,287.3 594.1,288.4 596.3,290 598.4,292.1 600.6,293.9 602.8,295.6 605,296.8 607.2,297 609.4,296.7 611.6,296.2 613.7,295.5 615.9,294.4 618.1,292.7 620.3,290.7 622.5,288.3 624.7,285.2 626.9,282.2 629,279.4 631.2,276.9 633.4,275.6 635.6,275.3 637.8,275.1 640,275 642.2,274.9 644.3,274.8 646.5,274.7 648.7,274.7 650.9,274.6 653.1,274.8 655.3,275.2 657.5,275.6 659.6,275.9 661.8,275.9 664,275.9 666.2,275.9 668.4,275.7 670.6,272.8 672.8,267.4 674.9,259 677.1,251.5 679.3,246 681.5,242.5 683.7,243.3 685.9,246.1 688.1,250.4 690.2,252.8 692.4,254.2 694.6,254.8 696.8,255 699,253.2 701.2,250.8 703.3,247.8 705.5,245.5 707.7,243.9 709.9,242.9 712.1,242.9 714.3,243 716.5,243.2 718.6,243.3 720.8,243.3 723,243 725.2,242.5 727.4,241.8 729.6,241.2 731.8,240.3 733.9,239.2 736.1,238.2 738.3,237.5 740.5,236.8 742.7,236.2 744.9,235.6 747.1,235.1 749.2,234.5 751.4,233.9 753.6,233.2 755.8,232.5 758,231.7 760.2,230.8 762.4,229.8 764.5,228.8 766.7,227.9 768.9,227.3 771.1,226.7 773.3,226.3 775.5,225.8 777.7,225.3 779.8,224.9 782,224.4 784.2,223.8 786.4,223.3 788.6,222.7 790.8,222.2 793,221.8 795.1,221.3 797.3,220.9 799.5,220.5 801.7,220 803.9,219.7 806.1,219.4 808.3,219.2 810.4,219 812.6,218.8 814.8,218.7 817,218.6 819.2,218.5 821.4,218.5 823.6,218.5 825.7,218.6 827.9,218.7 830.1,218.9 832.3,219.2" fill="none" stroke="#ff0000" stroke-width="0.8" stroke-linejoin="round" marker-start="url(#i2)" marker-mid="url(#i2)" marker-end="url(#i2)"/>
<polyline points="285.9,216 288.1,216 290.3,216 292.5,216 294.6,216 296.8,216 299,216 301.2,216 303.4,216 305.6,216 307.8,216.8 309.9,221.5 312.1,229.3 314.3,237.9 316.5,250.1 318.7,265.2 320.9,286.8 323.1,317.5 325.2,348.5 327.4,377.5 329.6,403.3 331.8,423.6 334,436.2 336.2,445.6 338.4,448.1 340.5,434.1 342.7,417.5 344.9,397 347.1,377 349.3,348.1 351.5,323.9 353.7,300.8 355.8,281.2 358,264.4 360.2,254.8 362.4,249.8 364.6,253.9 366.8,260.7 369,267.7 371.1,272.4 373.3,273 375.5,272.7 377.7,272.7 379.9,272.7 382.1,274.8 384.3,278.3 386.4,281 388.6,283.4 390.8,285.5 393,286.5 395.2,286.4 397.4,285.7 399.6,284.8 401.7,283.6 403.9,281.5 406.1,278.7 408.3,276.2 410.5,274.4 412.7,272.9 414.9,271.7 417,271.2 419.2,271.5 421.4,272.2 423.6,273 425.8,273.9 428,274.1 430.1,274 432.3,273.6 434.5,273.2 436.7,272.1 438.9,270.4 441.1,268.3 443.3,265.4 445.4,263 447.6,261.5 449.8,260.5 452,260.3 454.2,260.6 456.4,261.1 458.6,261.5 460.7,262 462.9,262.4 465.1,262.7 467.3,262.7 469.5,262.5 471.7,262.1 473.9,261.8 476,261.5 478.2,261.5 480.4,261.7 482.6,262 484.8,262.4 487,262.8 489.2,263.2 491.3,263.5 493.5,263.7 495.7,263.7 497.9,263.7 500.1,263.7 502.3,263.6 504.5,263.6 506.6,263.5 508.8,263.4 511,263.3 513.2,263.2 515.4,262.9 517.6,262.5 519.8,261.9 521.9,260.7 524.1,258.5 526.3,255.9 528.5,253.2 530.7,250 532.9,246.6 535.1,243.3 537.2,239.9 539.4,236.5 541.6,233.7 543.8,231.9 546,230.5 548.2,229.9 550.4,230 552.5,230.4 554.7,231.8 556.9,234.8 559.1,237.8 561.3,240 563.5,242.1 565.7,243.2 567.8,243.9 570,244.3 572.2,244.1 574.4,243.6 576.6,242.8 578.8,241.9 581,240.8 583.1,239.4 585.3,237.8 587.5,235.9 589.7,233.7 591.9,231.3 594.1,228.8 596.3,226.1 598.4,223.4 600.6,220.5 602.8,217.4 605,214.5 607.2,211.3 609.4,210 611.6,210.4 613.7,211 615.9,211.7 618.1,212.5 620.3,213.3 622.5,214 624.7,214.5 626.9,214.9 629,215.3 631.2,215.6 633.4,215.9 635.6,216.2 637.8,216.5 640,216.7 642.2,216.9 644.3,217 646.5,217 648.7,217 650.9,216.9 653.1,216.8 655.3,216.6 657.5,216.5 659.6,216.3 661.8,216.1 664,215.9 666.2,215.7 668.4,215.5 670.6,215.4 672.8,215.2 674.9,215.1 677.1,215 679.3,215 681.5,215 683.7,215.1 685.9,215.1 688.1,215.2 690.2,215.3 692.4,215.4 694.6,215.5 696.8,215.6 699,215.8 701.2,215.9 703.3,216.1 705.5,216.2 707.7,216.3 709.9,216.5 712.1,216.6 714.3,216.7 716.5,216.8 718.6,216.9 720.8,216.9 723,217 725.2,217 727.4,217.1 729.6,217.1 731.8,217.1 733.9,217.2 736.1,217.2 738.3,217.2 740.5,217.2 742.7,217.3 744.9,217.3 747.1,217.3 749.2,217.3 751.4,217.4 753.6,217.4 755.8,217.4 758,217.4 760.2,217.4 762.4,217.4 764.5,217.5 766.7,217.5 768.9,217.5 771.1,217.5 773.3,217.5 775.5,217.5 777.7,217.5 779.8,217.5 782,217.5 784.2,217.5 786.4,217.5 788.6,217.5 790.8,217.5 793,217.5 795.1,217.4 797.3,217.4 799.5,217.4 801.7,217.4 803.9,217.4 806.1,217.4 808.3,217.3 810.4,217.3 812.6,217.3 814.8,217.3 817,217.2 819.2,217.2 821.4,217.2 823.6,217.1 825.7,217.1 827.9,217.1 830.1,217 832.3,217" fill="none" stroke="#0000ff" stroke-width="0.8" stroke-linejoin="round" marker-start="url(#i3)" marker-mid="url(#i3)" marker-end="url(#i3)"/>
<polyline points="285.9,216 288.1,216 290.3,216 292.5,216 294.6,216 296.8,216 299,216 301.2,216 303.4,216 305.6,216 307.8,216 309.9,216 312.1,216 314.3,216 316.5,216 318.7,216 320.9,216 323.1,217 325.2,219.4 327.4,223.4 329.6,228 331.8,233.6 334,240.9 336.2,250.2 338.4,260.8 340.5,274.1 342.7,288 344.9,302.4 347.1,319.6 349.3,331.7 351.5,342.8 353.7,351.3 355.8,355.6 358,355.7 360.2,349.7 362.4,332.4 364.6,311.8 366.8,292.2 369,272.9 371.1,255.6 373.3,240 375.5,220.7" fill="none" stroke="#ff00ff" stroke-width="0.8" stroke-linejoin="round" marker-start="url(#i4)" marker-mid="url(#i4)" marker-end="url(#i4)"/>
<polyline points="285.9,216 288.1,216 290.3,216 292.5,216 294.6,216 296.8,216 299,216 301.2,216 303.4,216 305.6,216 307.8,216 309.9,216 312.1,216 314.3,216 316.5,216 318.7,216 320.9,216 323.1,216 325.2,216 327.4,216 329.6,216 331.8,216 334,216 336.2,216 338.4,216.3 340.5,218 342.7,219.9 344.9,222.4 347.1,225.6 349.3,229.9 351.5,235 353.7,241.8 355.8,250 358,257.6 360.2,265.3 362.4,273.9 364.6,282.6 366.8,290.9 369,298 371.1,303.8 373.3,307.5 375.5,308.9 377.7,307.6 379.9,300.5 382.1,285.1 384.3,272 386.4,260 388.6,249.5 390.8,234.6 392.9,217.5" fill="none" stroke="#008000" stroke-width="0.8" stroke-linejoin="round" marker-start="url(#i5)" marker-mid="url(#i5)" marker-end="url(#i5)"/>
<polyline points="285.9,216 288.1,216 290.3,216 292.5,216 294.6,216 296.8,216 299,216 301.2,216 303.4,216 305.6,216 307.8,216 309.9,216 312.1,216 314.3,216 316.5,216 318.7,216 320.9,216 323.1,216 325.2,216 327.4,216 329.6,216 331.8,216 334,216 336.2,216 338.4,216 340.5,216 342.7,216 344.9,216 347.1,216 349.3,216 351.5,216 353.7,216 355.8,216 358,216.8 360.2,218.5 362.4,220.4 364.6,223 366.8,225.9 369,229.6 371.1,234.1 373.3,239.1 375.5,245.2 377.7,252 379.9,258.1 382.1,263.5 384.3,268.5 386.4,273 388.6,277.3 390.8,280.2 393,282.2 395.2,282 397.4,276.5 399.6,263.4 401.7,258.1 403.9,252 406.1,244 408.3,235.2 410.5,225.3 412.7,217 414.9,210.6 417,206.8 418.1,214.5" fill="none" stroke="#000080" stroke-width="0.8" stroke-linejoin="round" marker-start="url(#i6)" marker-mid="url(#i6)" marker-end="url(#i6)"/>
<polyline points="285.9,216 288.1,216 290.3,216 292.5,216 294.6,216 296.8,216 299,216 301.2,216 303.4,216 305.6,216 307.8,216 309.9,216 312.1,216 314.3,216 316.5,216 318.7,216 320.9,216 323.1,216 325.2,216 327.4,216 329.6,216 331.8,216 334,216 336.2,216 338.4,216 340.5,216 342.7,216 344.9,216 347.1,216 349.3,216 351.5,216 353.7,216 355.8,216 358,216 360.2,216 362.4,216 364.6,216 366.8,216 369,216 371.1,216 373.3,216 375.5,216.3 377.7,218 379.9,220 382.1,222.6 384.3,225.6 386.4,229.1 388.6,233 390.8,236.8 393,240.3 395.2,243.8 397.4,247.4 399.6,251.4 401.7,255.2 403.9,258.5 406.1,261.7 408.3,264.2 410.5,265.7 412.7,266.6 414.9,266.3 417,263.7 419.2,245.8 421.4,241.8 423.6,240.1 425.8,238.4 428,233.8 430.1,225.8 432.3,216.8 434.5,206.9 436.7,201.8 438.9,199.2 441.1,199.9 443.3,201.8 445.4,204.5 447.6,207.1 449.8,208.7 452,209.8 454.2,209.7 456.4,208.2 458.6,208.1 460.7,208.2 462.9,208.5 465.1,209 467.3,209.6 469.5,210.2 471.7,210.9 473.9,211.6 476,212.1 478.2,212.6 480.4,212.9 482.6,213.2 484.8,213.5 487,213.8 489.2,214 491.3,214.2 493.5,214.4 495.7,214.7 497.9,215 500.1,215.3 502.3,215.7 504.5,216 506.6,216.3 508.8,216.7 511,217.1 513.2,217.5 515.4,217.9 517.6,218.2 519.8,218.4 521.9,218.6 524.1,218.7 526.3,218.8 528.5,218.9 530.7,219 532.9,219.1 535.1,219.2 537.2,219.3 539.4,219.4 541.6,219.4 543.8,219.4 546,219.5 548.2,219.5 550.4,219.5 552.5,219.4 554.7,219.4 556.9,219.3 559.1,219.2 561.3,219.1 563.5,219 565.7,218.9 567.8,218.8 570,218.7 572.2,218.7 574.4,218.6 576.6,218.5 578.8,218.5 581,218.5 583.1,218.5 585.3,218.5 587.5,218.5 589.7,218.6 591.9,218.6 594.1,218.7 596.3,218.7 598.4,218.8 600.6,218.8 602.8,218.9 605,218.9 607.2,218.9 609.4,219 611.6,219 613.7,219 615.9,219 618.1,218.9 620.3,218.9 622.5,218.8 624.7,218.8 626.9,218.7 629,218.6 631.2,218.4 633.4,218.3 635.6,218.2 637.8,218.1 640,217.9 642.2,217.8 644.3,217.6 646.5,217.5 648.7,217.3 650.9,217.1 653.1,216.9 655.3,216.6 657.5,216.3 659.6,216 661.8,215.7 664,215.4 666.2,215.1 668.4,214.8 670.6,214.5 672.8,214.2 674.9,213.9 677.1,213.7 679.3,213.5 681.5,213.3 683.7,213.2 685.9,213.1 688.1,212.9 690.2,212.8 692.4,212.7 694.6,212.6 696.8,212.4 699,212.3 701.2,212.2 703.3,212.1 705.5,212 707.7,211.9 709.9,211.8 712.1,211.7 714.3,211.6 716.5,211.5 718.6,211.3 720.8,211.2 723,211 725.2,210.8 727.4,210.6 729.6,210.4 731.8,210.1 733.9,209.8 736.1,209.6 738.3,209.4 740.5,209.2 742.7,209.1 744.9,209 747.1,209 749.2,209 751.4,209 753.6,209 755.8,209 758,209 760.2,209 762.4,209 764.5,209 766.7,209 768.9,209 771.1,209 773.3,209 775.5,209 777.7,209 779.8,209 782,209 784.2,209 786.4,209 788.6,209 790.8,209.1 793,209.2 795.1,209.4 797.3,209.6 799.5,209.9 801.7,210.1 803.9,210.4 806.1,210.7 808.3,210.9 810.4,211 812.6,211.2 814.8,211.3 817,211.4 819.2,211.5 821.4,211.6 823.6,211.7 825.7,211.8 827.9,211.9 830.1,212 832.3,212" fill="none" stroke="#8000ff" stroke-width="0.8" stroke-linejoin="round" marker-start="url(#i7)" marker-mid="url(#i7)" marker-end="url(#i7)"/>
<polyline points="285.9,216 288.1,216 290.3,216 292.5,216 294.6,216 296.8,216 299,216 301.2,216 303.4,216 305.6,216 307.8,216 309.9,216 312.1,216 314.3,216 316.5,216 318.7,216 320.9,216 323.1,216 325.2,216 327.4,216 329.6,216 331.8,216 334,216 336.2,216 338.4,216 340.5,216 342.7,216 344.9,216 347.1,216 349.3,216 351.5,216 353.7,216 355.8,216 358,216 360.2,216 362.4,216 364.6,216 366.8,216 369,216 371.1,216 373.3,216 375.5,216 377.7,216 379.9,216 382.1,216 384.3,216 386.4,216 388.6,216 390.8,216 393,216 395.2,217 397.4,219 399.6,221 401.7,223.4 403.9,226 406.1,228.6 408.3,231.5 410.5,234.3 412.7,237.2 414.9,240 417,242.9 419.2,245.8 421.4,248.9 423.6,251.5 425.8,253.1 428,254.4 430.1,255.2 432.3,253.3 434.5,250.2 436.7,249.2 438.9,247.9 441.1,245.7 443.3,243.1 445.4,239.8 447.6,235.9 449.8,230.8 452,224.7 454.2,216.6 456.4,208.9 458.6,206.5 460.7,205.2 462.9,205.5 465.1,207.4 467.3,208.5 469.5,209.1 471.7,209.8 473.9,210.5 476,211.2 478.2,211.8 480.4,212.2 482.6,212.5 484.8,212.8 487,213.1 489.2,213.3 491.3,213.7 493.5,214.1 495.7,214.5 497.9,215 500.1,215.4 502.3,215.7 504.5,216 506.6,216.2 508.8,216.4 511,216.6 513.2,216.8 515.4,217 517.6,217.2 519.8,217.3 521.9,217.5 524.1,217.6 526.3,217.7 528.5,217.8 530.7,217.9 532.9,217.9 535.1,218 537.2,218 539.4,218 541.6,218 543.8,218 546,218 548.2,218 550.4,218 552.5,218 554.7,218 556.9,218 559.1,218 561.3,218 563.5,218 565.7,218 567.8,218 570,218 572.2,218 574.4,218 576.6,218 578.8,218 581,218.1 583.1,218.1 585.3,218.1 587.5,218.2 589.7,218.2 591.9,218.2 594.1,218.3 596.3,218.3 598.4,218.3 600.6,218.4 602.8,218.4 605,218.4 607.2,218.5 609.4,218.5 611.6,218.5 613.7,218.5 615.9,218.5 618.1,218.4 620.3,218.4 622.5,218.3 624.7,218.2 626.9,218.1 629,218 631.2,217.8 633.4,217.7 635.6,217.5 637.8,217.4 640,217.2 642.2,217 644.3,216.9 646.5,216.7 648.7,216.5 650.9,216.4 653.1,216.2 655.3,216.1 657.5,216 659.6,215.9 661.8,215.8 664,215.7 666.2,215.6 668.4,215.5 670.6,215.4 672.8,215.3 674.9,215.2 677.1,215.1 679.3,215 681.5,214.9 683.7,214.8 685.9,214.7 688.1,214.6 690.2,214.5 692.4,214.4 694.6,214.3 696.8,214.2 699,214.1 701.2,214 703.3,213.9 705.5,213.8 707.7,213.7 709.9,213.6 712.1,213.5 714.3,213.4 716.5,213.3 718.6,213.2 720.8,213 723,212.9 725.2,212.8 727.4,212.7 729.6,212.6 731.8,212.5 733.9,212.4 736.1,212.3 738.3,212.3 740.5,212.2 742.7,212.1 744.9,212 747.1,212 749.2,211.9 751.4,211.8 753.6,211.8 755.8,211.7 758,211.6 760.2,211.5 762.4,211.5 764.5,211.4 766.7,211.4 768.9,211.3 771.1,211.3 773.3,211.2 775.5,211.2 777.7,211.1 779.8,211.1 782,211.1 784.2,211 786.4,211 788.6,211 790.8,211 793,211 795.1,211 797.3,211 799.5,211 801.7,211 803.9,211 806.1,211 808.3,211 810.4,211 812.6,211 814.8,211 817,211 819.2,211 821.4,211 823.6,211 825.7,211 827.9,211 830.1,211 832.3,211" fill="none" stroke="#800080" stroke-width="0.8" stroke-linejoin="round" marker-start="url(#i8)" marker-mid="url(#i8)" marker-end="url(#i8)"/>
<polyline points="285.9,216 288.1,216 290.3,216 292.5,216 294.6,216 296.8,216 299,216 301.2,216 303.4,216 305.6,216 307.8,216 309.9,216 312.1,216 314.3,216 316.5,216 318.7,216 320.9,216 323.1,216 325.2,216 327.4,216 329.6,216 331.8,216 334,216 336.2,216 338.4,216 340.5,216 342.7,216 344.9,216 347.1,216 349.3,216 351.5,216 353.7,216 355.8,216 358,216 360.2,216 362.4,216 364.6,216 366.8,216 369,216 371.1,216 373.3,216 375.5,216 377.7,216 379.9,216 382.1,216 384.3,216 386.4,216 388.6,216 390.8,216 393,216 395.2,216 397.4,216 399.6,216 401.7,216 403.9,216 406.1,216 408.3,216 410.5,216 412.7,216.7 414.9,218 417,219.2 419.2,220.5 421.4,222.1 423.6,224.2 425.8,227.2 428,230.6 430.1,233.9 432.3,236.7 434.5,239.4 436.7,241.8 438.9,243.8 441.1,245.6 443.3,246.7 445.4,246.7 447.6,246.3 449.8,245.7 452,243.7 454.2,241.3 456.4,239.8 458.6,238.3 460.7,236.9 462.9,235.2 465.1,233.6 467.3,232.4 469.5,231.3 471.7,224.7 473.9,216.1 476,208.8 478.2,205 480.4,202.7 482.6,201.6 484.8,201.8 487,202.4 489.2,203.4 491.3,205.5 493.5,207.7 495.7,208.6 497.9,209.3 500.1,209.7 502.3,209.8 504.5,209.3 506.6,208.7 508.8,208.3 511,208.5 513.2,209 515.4,209.5 517.6,210 519.8,210.4 521.9,210.9 524.1,211.3 526.3,211.7 528.5,212.1 530.7,212.4 532.9,212.6 535.1,212.9 537.2,213.1 539.4,213.2 541.6,213.4 543.8,213.6 546,213.7 548.2,213.9 550.4,214 552.5,214.1 554.7,214.3 556.9,214.4 559.1,214.5 561.3,214.6 563.5,214.8 565.7,214.9 567.8,215 570,215.2 572.2,215.3 574.4,215.4 576.6,215.5 578.8,215.7 581,215.8 583.1,215.8 585.3,215.9 587.5,216 589.7,216 591.9,216 594.1,216 596.3,216 598.4,216 600.6,216 602.8,216 605,216 607.2,216 609.4,216 611.6,216 613.7,216 615.9,216 618.1,216 620.3,216 622.5,216 624.7,216 626.9,216 629,215.9 631.2,215.8 633.4,215.7 635.6,215.5 637.8,215.4 640,215.2 642.2,215 644.3,214.7 646.5,214.5 648.7,214.3 650.9,214.1 653.1,213.9 655.3,213.7 657.5,213.5 659.6,213.3 661.8,213.1 664,212.9 666.2,212.7 668.4,212.5 670.6,212.3 672.8,212.1 674.9,211.9 677.1,211.7 679.3,211.5 681.5,211.3 683.7,211.2 685.9,211.1 688.1,211.1 690.2,211 692.4,211 694.6,211 696.8,211 699,211 701.2,211 703.3,211 705.5,211 707.7,211 709.9,211 712.1,211 714.3,211 716.5,211 718.6,211 720.8,211 723,211 725.2,211 727.4,211.1 729.6,211.1 731.8,211.2 733.9,211.3 736.1,211.4 738.3,211.5 740.5,211.6 742.7,211.7 744.9,211.8 747.1,211.8 749.2,211.9 751.4,212 753.6,212 755.8,212 758,212 760.2,212 762.4,212 764.5,211.9 766.7,211.9 768.9,211.8 771.1,211.8 773.3,211.7 775.5,211.6 777.7,211.5 779.8,211.4 782,211.3 784.2,211.2 786.4,211.1 788.6,211 790.8,210.9 793,210.7 795.1,210.4 797.3,210.2 799.5,209.9 801.7,209.6 803.9,209.4 806.1,209.2 808.3,209.1 810.4,209 812.6,209 814.8,209 817,209 819.2,209 821.4,209 823.6,209 825.7,209 827.9,209 830.1,209 832.3,209" fill="none" stroke="#800000" stroke-width="0.8" stroke-linejoin="round" marker-start="url(#i9)" marker-mid="url(#i9)" marker-end="url(#i9)"/>
<polyline points="285.9,216 288.1,216 290.3,216 292.5,216 294.6,216 296.8,216 299,216 301.2,216 303.4,216 305.6,216 307.8,216 309.9,216 312.1,216 314.3,216 316.5,216 318.7,216 320.9,216 323.1,216 325.2,216 327.4,216 329.6,216 331.8,216 334,216 336.2,216 338.4,216 340.5,216 342.7,216 344.9,216 347.1,216 349.3,216 351.5,216 353.7,216 355.8,216 358,216 360.2,216 362.4,216 364.6,216 366.8,216 369,216 371.1,216 373.3,216 375.5,216 377.7,216 379.9,216 382.1,216 384.3,216 386.4,216 388.6,216 390.8,216 393,216 395.2,216 397.4,216 399.6,216 401.7,216 403.9,216 406.1,216 408.3,216 410.5,216 412.7,216.1 414.9,216.4 417,217 419.2,217.5 421.4,218 423.6,218.5 425.8,219 428,219.6 430.1,220.4 432.3,221.4 434.5,222.5 436.7,223.7 438.9,225 441.1,226.4 443.3,227.8 445.4,229.3 447.6,230.9 449.8,232.7 452,234.5 454.2,236.3 456.4,237.8 458.6,239.3 460.7,240.5 462.9,240.8 465.1,240.8 467.3,240.6 469.5,239.7 471.7,235.5 473.9,234.7 476,234.3 478.2,233.5 480.4,232.5 482.6,231.1 484.8,229.4 487,227.1 489.2,223.5 491.3,216.3 493.5,210.8 495.7,206.5 497.9,204.1 500.1,203.2 502.3,202.5 504.5,202.3 506.6,202.7 508.8,203.4 511,204.1 513.2,205.1 515.4,206.1 517.6,207.2 519.8,207.9 521.9,208.4 524.1,208.8 526.3,209.1 528.5,209.3 530.7,209.5 532.9,209.6 535.1,209.7 537.2,209.8 539.4,209.8 541.6,209.9 543.8,209.9 546,209.9 548.2,210 550.4,210 552.5,210.1 554.7,210.2 556.9,210.2 559.1,210.3 561.3,210.3 563.5,210.4 565.7,210.4 567.8,210.5 570,210.6 572.2,210.7 574.4,210.8 576.6,210.9 578.8,211 581,211.1 583.1,211.3 585.3,211.4 587.5,211.6 589.7,211.7 591.9,211.9 594.1,212.1 596.3,212.3 598.4,212.4 600.6,212.6 602.8,212.8 605,212.9 607.2,213.1 609.4,213.2 611.6,213.4 613.7,213.5 615.9,213.6 618.1,213.7 620.3,213.9 622.5,213.9 624.7,214 626.9,214.1 629,214.1 631.2,214.2 633.4,214.2 635.6,214.3 637.8,214.3 640,214.4 642.2,214.4 644.3,214.5 646.5,214.5 648.7,214.5 650.9,214.5 653.1,214.5 655.3,214.3 657.5,214.1 659.6,213.7 661.8,213.3 664,212.9 666.2,212.5 668.4,212 670.6,211.5 672.8,210.9 674.9,210.2 677.1,209.5 679.3,208.9 681.5,208.4 683.7,208.1 685.9,208 688.1,208 690.2,208 692.4,208 694.6,208 696.8,208 699,208 701.2,208 703.3,208.2 705.5,208.6 707.7,209.2 709.9,209.9 712.1,210.7 714.3,211.3 716.5,211.8 718.6,212.2 720.8,212.5 723,212.8 725.2,213 727.4,213.3 729.6,213.6 731.8,213.8 733.9,214 736.1,214.2 738.3,214.3 740.5,214.4 742.7,214.5 744.9,214.5 747.1,214.5 749.2,214.4 751.4,214.3 753.6,214.2 755.8,214.1 758,213.9 760.2,213.8 762.4,213.6 764.5,213.4 766.7,213.2 768.9,213.1 771.1,212.9 773.3,212.8 775.5,212.6 777.7,212.5 779.8,212.4 782,212.3 784.2,212.2 786.4,212.2 788.6,212.1 790.8,212 793,211.9 795.1,211.8 797.3,211.7 799.5,211.7 801.7,211.6 803.9,211.6 806.1,211.6 808.3,211.5 810.4,211.5 812.6,211.5 814.8,211.5 817,211.5 819.2,211.5 821.4,211.5 823.6,211.5 825.7,211.5 827.9,211.5 830.1,211.5 832.3,211.5" fill="none" stroke="#808000" stroke-width="0.8" stroke-linejoin="round" marker-start="url(#i10)" marker-mid="url(#i10)" marker-end="url(#i10)"/>
<polyline points="285.9,216 288.1,216 290.3,216 292.5,216 294.6,216 296.8,216 299,216 301.2,216 303.4,216 305.6,216 307.8,216 309.9,216 312.1,216 314.3,216 316.5,216 318.7,216 320.9,216 323.1,216 325.2,216 327.4,216 329.6,216 331.8,216 334,216 336.2,216 338.4,216 340.5,216 342.7,216 344.9,216 347.1,216 349.3,216 351.5,216 353.7,216 355.8,216 358,216 360.2,216 362.4,216 364.6,216 366.8,216 369,216 371.1,216 373.3,216 375.5,216 377.7,216 379.9,216 382.1,216 384.3,216 386.4,216 388.6,216 390.8,216 393,216 395.2,216 397.4,216 399.6,216 401.7,216 403.9,216 406.1,216 408.3,216 410.5,216 412.7,216 414.9,216 417,216 419.2,216 421.4,216 423.6,216 425.8,216 428,216 430.1,216 432.3,216 434.5,216 436.7,216 438.9,216 441.1,216 443.3,216 445.4,216.1 447.6,216.6 449.8,217.4 452,218.4 454.2,219.5 456.4,220.7 458.6,222.2 460.7,223.7 462.9,225.4 465.1,227.2 467.3,228.9 469.5,230.4 471.7,231.8 473.9,233.1 476,234.1 478.2,235.2 480.4,235.8 482.6,235.9 484.8,235.9 487,233.2 489.2,231.3 491.3,230.9 493.5,230.6 495.7,229.9 497.9,229.1 500.1,228.2 502.3,227.1 504.5,225.8 506.6,224.2 508.8,221.8 511,218.5 513.2,214.7 515.4,209.7 517.6,205.1 519.8,202.7 521.9,201.1 524.1,200.2 526.3,200.3 528.5,201 530.7,202 532.9,203.2 535.1,204.9 537.2,206.5 539.4,207.2 541.6,207.5 543.8,207.8 546,208 548.2,208.2 550.4,208.3 552.5,208.4 554.7,208.5 556.9,208.6 559.1,208.7 561.3,208.8 563.5,208.9 565.7,208.9 567.8,209 570,209.1 572.2,209.2 574.4,209.3 576.6,209.4 578.8,209.5 581,209.6 583.1,209.7 585.3,209.8 587.5,209.9 589.7,210 591.9,210.1 594.1,210.2 596.3,210.3 598.4,210.5 600.6,210.6 602.8,210.8 605,211 607.2,211.2 609.4,211.4 611.6,211.6 613.7,211.9 615.9,212.1 618.1,212.3 620.3,212.6 622.5,212.8 624.7,213 626.9,213.2 629,213.5 631.2,213.7 633.4,214 635.6,214.3 637.8,214.5 640,214.8 642.2,215 644.3,215.2 646.5,215.5 648.7,215.6 650.9,215.8 653.1,215.9 655.3,216 657.5,216 659.6,216 661.8,216 664,215.9 666.2,215.8 668.4,215.7 670.6,215.7 672.8,215.6 674.9,215.5 677.1,215.4 679.3,215.3 681.5,215.2 683.7,215.1 685.9,215.1 688.1,215 690.2,215 692.4,215 694.6,215.1 696.8,215.1 699,215.2 701.2,215.3 703.3,215.4 705.5,215.6 707.7,215.7 709.9,215.9 712.1,216.1 714.3,216.2 716.5,216.4 718.6,216.6 720.8,216.8 723,217 725.2,217.2 727.4,217.5 729.6,217.9 731.8,218.3 733.9,218.7 736.1,219.1 738.3,219.5 740.5,219.7 742.7,219.9 744.9,220 747.1,220 749.2,220 751.4,220 753.6,220 755.8,220 758,220 760.2,220 762.4,219.9 764.5,219.6 766.7,219.1 768.9,218.5 771.1,217.8 773.3,217.1 775.5,216.6 777.7,216.2 779.8,216 782,216 784.2,216.1 786.4,216.2 788.6,216.3 790.8,216.5 793,216.6 795.1,216.8 797.3,216.9 799.5,217 801.7,217.1 803.9,217.2 806.1,217.2 808.3,217.3 810.4,217.4 812.6,217.5 814.8,217.5 817,217.6 819.2,217.7 821.4,217.7 823.6,217.8 825.7,217.9 827.9,217.9 830.1,217.9 832.3,218" fill="none" stroke="#2a5cb0" stroke-width="0.8" stroke-linejoin="round" marker-start="url(#i11)" marker-mid="url(#i11)" marker-end="url(#i11)"/>
<polyline points="285.9,216 288.1,216 290.3,216 292.5,216 294.6,216 296.8,216 299,216 301.2,216 303.4,216 305.6,216 307.8,216 309.9,216 312.1,216 314.3,216 316.5,216 318.7,216 320.9,216 323.1,216 325.2,216 327.4,216 329.6,216 331.8,216 334,216 336.2,216 338.4,216 340.5,216 342.7,216 344.9,216 347.1,216 349.3,216 351.5,216 353.7,216 355.8,216 358,216 360.2,216 362.4,216 364.6,216 366.8,216 369,216 371.1,216 373.3,216 375.5,216 377.7,216 379.9,216 382.1,216 384.3,216 386.4,216 388.6,216 390.8,216 393,216 395.2,216 397.4,216 399.6,216 401.7,216 403.9,216 406.1,216 408.3,216 410.5,216 412.7,216 414.9,216 417,216 419.2,216 421.4,216 423.6,216 425.8,216 428,216 430.1,216 432.3,216 434.5,216 436.7,216 438.9,216 441.1,216 443.3,216 445.4,216 447.6,216 449.8,216 452,216 454.2,216 456.4,216 458.6,216 460.7,216 462.9,216.5 465.1,217.5 467.3,218.4 469.5,219.3 471.7,220.3 473.9,221.2 476,222.2 478.2,223.3 480.4,224.3 482.6,225.4 484.8,226.4 487,227.4 489.2,228.4 491.3,229.3 493.5,230.2 495.7,231 497.9,231.8 500.1,232.5 502.3,233 504.5,233.5 506.6,233.8 508.8,233.8 511,233 513.2,231.7 515.4,230.5 517.6,229.3 519.8,228 521.9,226.5 524.1,224.7 526.3,222.6 528.5,220.2 530.7,217.3 532.9,213.7 535.1,210.5 537.2,208 539.4,205.9 541.6,204.6 543.8,203.6 546,203.1 548.2,203.4 550.4,204.2 552.5,205.2 554.7,206 556.9,206.8 559.1,207.6 561.3,208.1 563.5,208.4 565.7,208.7 567.8,209 570,209.2 572.2,209.4 574.4,209.6 576.6,209.7 578.8,209.8 581,209.9 583.1,210 585.3,210.1 587.5,210.2 589.7,210.2 591.9,210.3 594.1,210.3 596.3,210.4 598.4,210.5 600.6,210.6 602.8,210.7 605,210.8 607.2,210.9 609.4,211.1 611.6,211.2 613.7,211.3 615.9,211.5 618.1,211.6 620.3,211.8 622.5,211.9 624.7,212 626.9,212.2 629,212.3 631.2,212.5 633.4,212.7 635.6,212.8 637.8,213 640,213.2 642.2,213.3 644.3,213.5 646.5,213.6 648.7,213.8 650.9,213.9 653.1,213.9 655.3,214 657.5,214 659.6,214 661.8,214 664,213.9 666.2,213.8 668.4,213.8 670.6,213.7 672.8,213.6 674.9,213.5 677.1,213.4 679.3,213.3 681.5,213.2 683.7,213.1 685.9,213.1 688.1,213 690.2,213 692.4,213 694.6,213.1 696.8,213.3 699,213.4 701.2,213.6 703.3,213.9 705.5,214.1 707.7,214.4 709.9,214.7 712.1,214.9 714.3,215.2 716.5,215.4 718.6,215.7 720.8,215.8 723,216 725.2,216.1 727.4,216.2 729.6,216.3 731.8,216.4 733.9,216.5 736.1,216.6 738.3,216.7 740.5,216.8 742.7,216.9 744.9,216.9 747.1,217 749.2,217.1 751.4,217.2 753.6,217.4 755.8,217.5 758,217.6 760.2,217.8 762.4,218 764.5,218.2 766.7,218.4 768.9,218.6 771.1,218.9 773.3,219.1 775.5,219.4 777.7,219.7 779.8,220 782,220.3 784.2,220.7 786.4,221.1 788.6,221.5 790.8,221.9 793,222.3 795.1,222.6 797.3,223 799.5,223.4 801.7,223.8 803.9,224.2 806.1,224.5 808.3,224.7 810.4,224.9 812.6,225.1 814.8,225.3 817,225.4 819.2,225.4 821.4,225.4 823.6,225.2 825.7,225 827.9,224.7 830.1,223.8 832.3,222.5" fill="none" stroke="#2ea0a0" stroke-width="0.8" stroke-linejoin="round" marker-start="url(#i12)" marker-mid="url(#i12)" marker-end="url(#i12)"/>
<polyline points="285.9,216 288.1,216 290.3,216 292.5,216 294.6,216 296.8,216 299,216 301.2,216 303.4,216 305.6,216 307.8,216 309.9,216 312.1,216 314.3,216 316.5,216 318.7,216 320.9,216 323.1,216 325.2,216 327.4,216 329.6,216 331.8,216 334,216 336.2,216 338.4,216 340.5,216 342.7,216 344.9,216 347.1,216 349.3,216 351.5,216 353.7,216 355.8,216 358,216 360.2,216 362.4,216 364.6,216 366.8,216 369,216 371.1,216 373.3,216 375.5,216 377.7,216 379.9,216 382.1,216 384.3,216 386.4,216 388.6,216 390.8,216 393,216 395.2,216 397.4,216 399.6,216 401.7,216 403.9,216 406.1,216 408.3,216 410.5,216 412.7,216 414.9,216 417,216 419.2,216 421.4,216 423.6,216 425.8,216 428,216 430.1,216 432.3,216 434.5,216 436.7,216 438.9,216 441.1,216 443.3,216 445.4,216 447.6,216 449.8,216 452,216 454.2,216 456.4,216 458.6,216 460.7,216 462.9,216 465.1,216 467.3,216 469.5,216 471.7,216 473.9,216 476,216 478.2,216 480.4,216 482.6,216.8 484.8,218 487,218.9 489.2,219.9 491.3,220.8 493.5,221.7 495.7,222.6 497.9,223.4 500.1,224.2 502.3,225 504.5,225.8 506.6,226.8 508.8,227.8 511,228.7 513.2,229.6 515.4,230.5 517.6,231.3 519.8,231.8 521.9,232.1 524.1,232.3 526.3,232.4 528.5,232 530.7,231.3 532.9,230.5 535.1,229.8 537.2,229 539.4,228 541.6,226.9 543.8,225.5 546,223.8 548.2,221.9 550.4,219.5 552.5,216.8 554.7,214.2 556.9,211.4 559.1,209.1 561.3,207.4 563.5,206 565.7,205.4 567.8,205.2 570,205.1 572.2,205.3 574.4,205.9 576.6,206.7 578.8,207.3 581,208 583.1,208.7 585.3,209.4 587.5,209.9 589.7,210.2 591.9,210.6 594.1,210.8 596.3,211.1 598.4,211.4 600.6,211.7 602.8,212 605,212.3 607.2,212.6 609.4,212.9 611.6,213.2 613.7,213.5 615.9,213.8 618.1,214.1 620.3,214.4 622.5,214.6 624.7,214.9 626.9,215.2 629,215.4 631.2,215.7 633.4,216 635.6,216.2 637.8,216.5 640,216.7 642.2,217 644.3,217.2 646.5,217.5 648.7,217.8 650.9,218 653.1,218.3 655.3,218.6 657.5,218.9 659.6,219.2 661.8,219.5 664,219.8 666.2,220.1 668.4,220.3 670.6,220.6 672.8,220.7 674.9,220.9 677.1,220.9 679.3,221 681.5,220.9 683.7,220.8 685.9,220.7 688.1,220.4 690.2,220.2 692.4,219.9 694.6,219.6 696.8,219.2 699,218.9 701.2,218.5 703.3,218.1 705.5,217.5 707.7,216.9 709.9,216.2 712.1,215.5 714.3,214.7 716.5,213.9 718.6,213.1 720.8,212.1 723,211 725.2,209.9 727.4,208.9 729.6,208.2 731.8,207.4 733.9,206.7 736.1,206.3 738.3,206.1 740.5,206.2 742.7,206.5 744.9,207 747.1,207.6 749.2,208.2 751.4,208.9 753.6,210.1 755.8,211.5 758,213.1 760.2,214.6 762.4,216 764.5,217.2 766.7,218.3 768.9,219.4 771.1,220.5 773.3,221.5 775.5,222.4 777.7,223.4 779.8,224.4 782,225.2 784.2,226 786.4,226.7 788.6,227.3 790.8,227.9 793,228.4 795.1,228.8 797.3,228.9 799.5,228.9 801.7,228.9 803.9,228.9 806.1,228.9 808.3,228.9 810.4,228.8 812.6,228.4 814.8,227.9 817,227.3 819.2,226.7 821.4,226.1 823.6,225.3 825.7,224.5 827.9,223.4 830.1,221.8 832.3,220" fill="none" stroke="#b8905c" stroke-width="0.8" stroke-linejoin="round" marker-start="url(#i13)" marker-mid="url(#i13)" marker-end="url(#i13)"/>
<polyline points="285.9,216 288.1,216 290.3,216 292.5,216 294.6,216 296.8,216 299,216 301.2,216 303.4,216 305.6,216 307.8,216 309.9,216 312.1,216 314.3,216 316.5,216 318.7,216 320.9,216 323.1,216 325.2,216 327.4,216 329.6,216 331.8,216 334,216 336.2,216 338.4,216 340.5,216 342.7,216 344.9,216 347.1,216 349.3,216 351.5,216 353.7,216 355.8,216 358,216 360.2,216 362.4,216 364.6,216 366.8,216 369,216 371.1,216 373.3,216 375.5,216 377.7,216 379.9,216 382.1,216 384.3,216 386.4,216 388.6,216 390.8,216 393,216 395.2,216 397.4,216 399.6,216 401.7,216 403.9,216 406.1,216 408.3,216 410.5,216 412.7,216 414.9,216 417,216 419.2,216 421.4,216 423.6,216 425.8,216 428,216 430.1,216 432.3,216 434.5,216 436.7,216 438.9,216 441.1,216 443.3,216 445.4,216 447.6,216 449.8,216 452,216 454.2,216 456.4,216 458.6,216 460.7,216 462.9,216 465.1,216 467.3,216 469.5,216 471.7,216 473.9,216 476,216 478.2,216 480.4,216 482.6,216 484.8,216 487,216 489.2,216 491.3,216 493.5,216 495.7,216 497.9,216 500.1,216 502.3,216 504.5,216 506.6,216.3 508.8,217.1 511,218 513.2,219 515.4,220.3 517.6,221.6 519.8,222.7 521.9,223.8 524.1,224.9 526.3,225.9 528.5,226.8 530.7,227.7 532.9,228.5 535.1,229.1 537.2,229.5 539.4,229.7 541.6,229.8 543.8,229.9 546,229.7 548.2,229 550.4,228 552.5,227.1 554.7,226.1 556.9,225 559.1,223.8 561.3,222.3 563.5,220.7 565.7,218.9 567.8,216.7 570,214 572.2,211.5 574.4,209.6 576.6,207.9 578.8,206.4 581,204.9 583.1,204.1 585.3,203.9 587.5,203.8 589.7,203.9 591.9,204.5 594.1,205.4 596.3,206.2 598.4,207.1 600.6,208 602.8,208.8 605,209.6 607.2,210.3 609.4,210.8 611.6,211.2 613.7,211.6 615.9,211.9 618.1,212.3 620.3,212.6 622.5,212.9 624.7,213.2 626.9,213.5 629,213.9 631.2,214.3 633.4,214.7 635.6,215.1 637.8,215.5 640,215.9 642.2,216.3 644.3,216.8 646.5,217.3 648.7,217.9 650.9,218.6 653.1,219.4 655.3,220.3 657.5,221.2 659.6,222.2 661.8,223.2 664,224.4 666.2,225.5 668.4,226.5 670.6,227.3 672.8,228 674.9,228.6 677.1,229.1 679.3,229.5 681.5,229.8 683.7,230.1 685.9,230.3 688.1,230.4 690.2,230.3 692.4,230 694.6,229.6 696.8,229.1 699,228.5 701.2,227.6 703.3,226.6 705.5,225.4 707.7,224.1 709.9,222.6 712.1,220.9 714.3,219.2 716.5,217.7 718.6,216.3 720.8,214.9 723,213.7 725.2,212.6 727.4,211.6 729.6,210.7 731.8,209.9 733.9,209.2 736.1,208.6 738.3,207.9 740.5,207.6 742.7,207.7 744.9,208.4 747.1,209.3 749.2,210.3 751.4,211.6 753.6,213.1 755.8,214.5 758,215.9 760.2,217.4 762.4,218.8 764.5,220.3 766.7,221.8 768.9,223.3 771.1,224.7 773.3,225.9 775.5,227.1 777.7,228.2 779.8,229.1 782,230 784.2,230.8 786.4,231.5 788.6,231.9 790.8,232.1 793,232.3 795.1,232.4 797.3,232.4 799.5,232.3 801.7,231.9 803.9,231.5 806.1,231 808.3,230.2 810.4,229.3 812.6,228.4 814.8,227.4 817,226.4 819.2,225.3 821.4,224.2 823.6,223 825.7,221.8 827.9,220.5 830.1,219 832.3,217.4 832.8,217" fill="none" stroke="#2ed35a" stroke-width="0.8" stroke-linejoin="round" marker-start="url(#i14)" marker-mid="url(#i14)" marker-end="url(#i14)"/>
<polyline points="285.9,216 288.1,216 290.3,216 292.5,216 294.6,216 296.8,216 299,216 301.2,216 303.4,216 305.6,216 307.8,216 309.9,216 312.1,216 314.3,216 316.5,216 318.7,216 320.9,216 323.1,216 325.2,216 327.4,216 329.6,216 331.8,216 334,216 336.2,216 338.4,216 340.5,216 342.7,216 344.9,216 347.1,216 349.3,216 351.5,216 353.7,216 355.8,216 358,216 360.2,216 362.4,216 364.6,216 366.8,216 369,216 371.1,216 373.3,216 375.5,216 377.7,216 379.9,216 382.1,216 384.3,216 386.4,216 388.6,216 390.8,216 393,216 395.2,216 397.4,216 399.6,216 401.7,216 403.9,216 406.1,216 408.3,216 410.5,216 412.7,216 414.9,216 417,216 419.2,216 421.4,216 423.6,216 425.8,216 428,216 430.1,216 432.3,216 434.5,216 436.7,216 438.9,216 441.1,216 443.3,216 445.4,216 447.6,216 449.8,216 452,216 454.2,216 456.4,216 458.6,216 460.7,216 462.9,216 465.1,216 467.3,216 469.5,216 471.7,216 473.9,216 476,216 478.2,216 480.4,216 482.6,216 484.8,216 487,216 489.2,216 491.3,216 493.5,216 495.7,216 497.9,216 500.1,216 502.3,216 504.5,216 506.6,216 508.8,216 511,216 513.2,216 515.4,216 517.6,216 519.8,216 521.9,216.1 524.1,216.7 526.3,217.6 528.5,218.7 530.7,219.7 532.9,220.5 535.1,221.3 537.2,222 539.4,222.8 541.6,223.6 543.8,224.4 546,225.2 548.2,226 550.4,226.5 552.5,227 554.7,227.5 556.9,227.8 559.1,227.9 561.3,227.8 563.5,227.5 565.7,227 567.8,226.6 570,226.2 572.2,225.7 574.4,225.3 576.6,224.8 578.8,224.2 581,223.6 583.1,222.9 585.3,222 587.5,220.6 589.7,217.6 591.9,214.5 594.1,211.5 596.3,209.8 598.4,208.7 600.6,208.1 602.8,207.8 605,207.7 607.2,207.6 609.4,207.6 611.6,208.2 613.7,208.9 615.9,209.6 618.1,210.4 620.3,211.2 622.5,212 624.7,212.8 626.9,213.5 629,214.2 631.2,214.9 633.4,215.5 635.6,216.1 637.8,216.7 640,217.3 642.2,217.9 644.3,218.6 646.5,219.2 648.7,219.9 650.9,220.5 653.1,221.1 655.3,221.6 657.5,222.2 659.6,222.8 661.8,223.3 664,223.7 666.2,224 668.4,224.4 670.6,224.7 672.8,224.9 674.9,224.9 677.1,224.9 679.3,224.9 681.5,224.9 683.7,224.8 685.9,224.7 688.1,224.5 690.2,224.2 692.4,223.7 694.6,223.1 696.8,222.6 699,222.1 701.2,221.6 703.3,221 705.5,220.5 707.7,220.2 709.9,220 712.1,220 714.3,220 716.5,220 718.6,220 720.8,220 723,220 725.2,220 727.4,220 729.6,220 731.8,219.8 733.9,219.5 736.1,219.1 738.3,218.6 740.5,218.1 742.7,217.7 744.9,217.4 747.1,217.2 749.2,217.3 751.4,217.4 753.6,217.6 755.8,217.8 758,218.1 760.2,218.3 762.4,218.6 764.5,219 766.7,219.5 768.9,220 771.1,220.6 773.3,221.3 775.5,222.3 777.7,223.4 779.8,224.3 782,225 784.2,225.7 786.4,226.3 788.6,226.8 790.8,227.2 793,227.4 795.1,227.4 797.3,227.3 799.5,227 801.7,226.7 803.9,226.2 806.1,225.4 808.3,224.5 810.4,223.6 812.6,222.8 814.8,221.9 817,221.1 819.2,220.3 821.4,219.7 823.6,219 825.7,218.4 827.9,218 830.1,218 832.3,218" fill="none" stroke="#a8308c" stroke-width="0.8" stroke-linejoin="round"/>
<polyline points="285.9,216 288.1,216 290.3,216 292.5,216 294.6,216 296.8,216 299,216 301.2,216 303.4,216 305.6,216 307.8,216 309.9,216 312.1,216 314.3,216 316.5,216 318.7,216 320.9,216 323.1,216 325.2,216 327.4,216 329.6,216 331.8,216 334,216 336.2,216 338.4,216 340.5,216 342.7,216 344.9,216 347.1,216 349.3,216 351.5,216 353.7,216 355.8,216 358,216 360.2,216 362.4,216 364.6,216 366.8,216 369,216 371.1,216 373.3,216 375.5,216 377.7,216 379.9,216 382.1,216 384.3,216 386.4,216 388.6,216 390.8,216 393,216 395.2,216 397.4,216 399.6,216 401.7,216 403.9,216 406.1,216 408.3,216 410.5,216 412.7,216 414.9,216 417,216 419.2,216 421.4,216 423.6,216 425.8,216 428,216 430.1,216 432.3,216 434.5,216 436.7,216 438.9,216 441.1,216 443.3,216 445.4,216 447.6,216 449.8,216 452,216 454.2,216 456.4,216 458.6,216 460.7,216 462.9,216 465.1,216 467.3,216 469.5,216 471.7,216 473.9,216 476,216 478.2,216 480.4,216 482.6,216 484.8,216 487,216 489.2,216 491.3,216 493.5,216 495.7,216 497.9,216 500.1,216 502.3,216 504.5,216 506.6,216 508.8,216 511,216 513.2,216 515.4,216 517.6,216 519.8,216 521.9,216 524.1,216 526.3,216 528.5,216 530.7,216 532.9,216 535.1,216 537.2,216 539.4,216 541.6,216.3 543.8,217.2 546,218.3 548.2,219.4 550.4,220.1 552.5,220.6 554.7,221 556.9,221.5 559.1,221.9 561.3,222.5 563.5,223.1 565.7,223.7 567.8,224.3 570,224.8 572.2,225.3 574.4,225.7 576.6,226 578.8,226.3 581,226.5 583.1,226.8 585.3,226.9 587.5,226.9 589.7,226.6 591.9,226.1 594.1,225.5 596.3,225.1 598.4,224.5 600.6,224 602.8,223.5 605,222.9 607.2,222.3 609.4,221.3 611.6,219.4 613.7,217.3 615.9,215.8 618.1,214.8 620.3,214 622.5,213.5 624.7,213.5 626.9,213.5 629,213.5 631.2,213.5 633.4,213.7 635.6,214 637.8,214.4 640,214.9 642.2,215.3 644.3,215.8 646.5,216.2 648.7,216.8 650.9,217.4 653.1,218 655.3,218.6 657.5,219.1 659.6,219.6 661.8,219.9 664,220 666.2,219.9 668.4,219.7 670.6,219.4 672.8,219.1 674.9,218.5 677.1,217.2 679.3,215.9 681.5,214.8 683.7,214.3 685.9,214.1 688.1,213.8 690.2,213.6 692.4,213.5 694.6,213.6 696.8,213.9 699,214.7 701.2,215.6 703.3,216.6 705.5,217.5 707.7,218.7 709.9,220 712.1,221.4 714.3,222.7 716.5,223.9 718.6,225.1 720.8,226.1 723,227.1 725.2,227.9 727.4,228.5 729.6,229.2 731.8,229.6 733.9,229.9 736.1,229.9 738.3,229.8 740.5,229.7 742.7,229.5 744.9,229.3 747.1,228.8 749.2,228.1 751.4,227.2 753.6,226.3 755.8,225.1 758,223.7 760.2,222.3 762.4,221.1 764.5,220.1 766.7,219.2 768.9,218.4 771.1,217.8 773.3,217.3 775.5,217 777.7,216.7 779.8,216.5 782,216.4 784.2,216.3 786.4,216.2 788.6,216.1 790.8,216 793,216 795.1,216 797.3,216.1 799.5,216.2 801.7,216.4 803.9,216.6 806.1,216.8 808.3,217 810.4,217.2 812.6,217.4 814.8,217.6 817,217.8 819.2,217.9 821.4,218 823.6,218 825.7,218 827.9,218 830.1,218 832.3,218" fill="none" stroke="#4fd0d8" stroke-width="0.8" stroke-linejoin="round" marker-start="url(#i16)" marker-mid="url(#i16)" marker-end="url(#i16)"/>
<polyline points="285.9,216 288.1,216 290.3,216 292.5,216 294.6,216 296.8,216 299,216 301.2,216 303.4,216 305.6,216 307.8,216 309.9,216 312.1,216 314.3,216 316.5,216 318.7,216 320.9,216 323.1,216 325.2,216 327.4,216 329.6,216 331.8,216 334,216 336.2,216 338.4,216 340.5,216 342.7,216 344.9,216 347.1,216 349.3,216 351.5,216 353.7,216 355.8,216 358,216 360.2,216 362.4,216 364.6,216 366.8,216 369,216 371.1,216 373.3,216 375.5,216 377.7,216 379.9,216 382.1,216 384.3,216 386.4,216 388.6,216 390.8,216 393,216 395.2,216 397.4,216 399.6,216 401.7,216 403.9,216 406.1,216 408.3,216 410.5,216 412.7,216 414.9,216 417,216 419.2,216 421.4,216 423.6,216 425.8,216 428,216 430.1,216 432.3,216 434.5,216 436.7,216 438.9,216 441.1,216 443.3,216 445.4,216 447.6,216 449.8,216 452,216 454.2,216 456.4,216 458.6,216 460.7,216 462.9,216 465.1,216 467.3,216 469.5,216 471.7,216 473.9,216 476,216 478.2,216 480.4,216 482.6,216 484.8,216 487,216 489.2,216 491.3,216 493.5,216 495.7,216 497.9,216 500.1,216 502.3,216 504.5,216 506.6,216 508.8,216 511,216 513.2,216 515.4,216 517.6,216 519.8,216 521.9,216 524.1,216 526.3,216 528.5,216 530.7,216 532.9,216 535.1,216 537.2,216 539.4,216 541.6,216 543.8,216 546,216 548.2,216 550.4,216 552.5,216 554.7,216 556.9,216.3 559.1,216.8 561.3,217.5 563.5,218.3 565.7,219 567.8,219.8 570,220.4 572.2,221.1 574.4,221.8 576.6,222.6 578.8,223.3 581,223.9 583.1,224.6 585.3,225.3 587.5,226.1 589.7,227 591.9,227.9 594.1,228.8 596.3,229.6 598.4,230.5 600.6,231.3 602.8,231.9 605,232.2 607.2,232.3 609.4,232.4 611.6,232.4 613.7,226.8 615.9,225.9 618.1,225.5 620.3,225 622.5,224.2 624.7,223.1 626.9,222 629,220.8 631.2,219.5 633.4,217.9 635.6,216.3 637.8,214.6 640,212.9 642.2,211.2 644.3,209.6 646.5,208.4 648.7,207.3 650.9,206.3 653.1,205.5 655.3,204.9 657.5,204.5 659.6,204.1 661.8,203.9 664,204.1 666.2,205.1 668.4,205.5 670.6,205.7 672.8,206 674.9,206.5 677.1,207.4 679.3,208.4 681.5,209.4 683.7,210.4 685.9,211.5 688.1,212.6 690.2,213.6 692.4,214.5 694.6,215.3 696.8,216.1 699,217 701.2,218 703.3,219.2 705.5,220.5 707.7,222 709.9,223.4 712.1,224.7 714.3,226.2 716.5,227.6 718.6,228.9 720.8,229.9 723,230.8 725.2,231.6 727.4,232.4 729.6,233.1 731.8,233.8 733.9,234.5 736.1,235 738.3,235.4 740.5,235.6 742.7,235.8 744.9,235.9 747.1,235.8 749.2,235.3 751.4,234.6 753.6,233.8 755.8,232.7 758,231.4 760.2,229.8 762.4,228.1 764.5,226 766.7,223.9 768.9,221.7 771.1,219.4 773.3,217.1 775.5,214.7 777.7,212.3 779.8,210.2 782,208.4 784.2,206.7 786.4,205.3 788.6,204.3 790.8,203.4 793,202.7 795.1,203.9 797.3,205.5 799.5,206 801.7,206.5 803.9,207.5 806.1,209 808.3,210.7 810.4,212.3 812.6,213.6 814.8,214.8 817,215.9 819.2,217.1 821.4,218.3 823.6,219.5 825.7,220.7 827.9,221.8 830.1,222.7 832.3,223.6" fill="none" stroke="#3b489e" stroke-width="0.8" stroke-linejoin="round" marker-start="url(#i17)" marker-mid="url(#i17)" marker-end="url(#i17)"/>
</g>
<path d="M135.3 0.3V539.8M129.5 534.3H854.2M129.9 1.4H135.3M124.9 45.8H135.3M129.9 90.2H135.3M124.9 134.6H135.3M129.9 179H135.3M124.9 223.4H135.3M129.9 267.8H135.3M124.9 312.2H135.3M129.9 356.6H135.3M124.9 401H135.3M129.9 445.4H135.3M124.9 489.8H135.3M194.7 534.3V544.7M254.6 534.3V539.7M314.4 534.3V544.7M374.3 534.3V539.7M434.1 534.3V544.7M494 534.3V539.7M553.9 534.3V544.7M613.7 534.3V539.7M673.6 534.3V544.7M733.4 534.3V539.7M793.3 534.3V544.7M853.2 534.3V539.7" stroke="#000" stroke-width="2.1" fill="none"/>
<g font-size="42">
<text transform="translate(118.4 58) scale(1 1.06)" text-anchor="end">0</text>
<text transform="translate(118.4 146.8) scale(1 1.06)" text-anchor="end">-5</text>
<text transform="translate(118.4 235.6) scale(1 1.06)" text-anchor="end">-10</text>
<text transform="translate(118.4 324.4) scale(1 1.06)" text-anchor="end">-15</text>
<text transform="translate(118.4 413.2) scale(1 1.06)" text-anchor="end">-20</text>
<text transform="translate(118.4 502) scale(1 1.06)" text-anchor="end">-25</text>
<text transform="translate(194.7 584.3) scale(1 1.06)" text-anchor="middle">0</text>
<text transform="translate(314.4 584.3) scale(1 1.06)" text-anchor="middle">100</text>
<text transform="translate(434.1 584.3) scale(1 1.06)" text-anchor="middle">200</text>
<text transform="translate(553.9 584.3) scale(1 1.06)" text-anchor="middle">300</text>
<text transform="translate(673.6 584.3) scale(1 1.06)" text-anchor="middle">400</text>
<text transform="translate(793.3 584.3) scale(1 1.06)" text-anchor="middle">500</text>
</g>
<g font-size="42.4"><text transform="translate(494.2 652.5) scale(1 1.0)" text-anchor="middle">time (µs)</text>
</g>
<g font-size="42.8"><text transform="translate(33 295.6) rotate(-90) scale(1 1.0)" text-anchor="middle">z-stress (MPa)</text>
</g>
<path d="M275 190.6V465.1M274.4 464.5H854.8M272.1 191.2H275M269.2 216H275M272.1 240.8H275M269.2 265.7H275M272.1 290.6H275M269.2 315.4H275M272.1 340.2H275M269.2 365.1H275M272.1 390H275M269.2 414.8H275M272.1 439.6H275M269.2 464.5H275M285.9 464.5V470.5M340.5 464.5V467.5M395.2 464.5V470.5M449.8 464.5V467.5M504.5 464.5V470.5M559.1 464.5V467.5M613.7 464.5V470.5M668.4 464.5V467.5M723 464.5V470.5M777.7 464.5V467.5M832.3 464.5V470.5" stroke="#000" stroke-width="1.5" fill="none"/>
<g font-size="16">
<text transform="translate(264.8 220.3) scale(1 0.97)" text-anchor="end">0</text>
<text transform="translate(264.8 270) scale(1 0.97)" text-anchor="end">-1</text>
<text transform="translate(264.8 319.7) scale(1 0.97)" text-anchor="end">-2</text>
<text transform="translate(264.8 369.4) scale(1 0.97)" text-anchor="end">-3</text>
<text transform="translate(264.8 419.1) scale(1 0.97)" text-anchor="end">-4</text>
<text transform="translate(264.8 468.8) scale(1 0.97)" text-anchor="end">-5</text>
<text transform="translate(285.9 487.8) scale(1 1.05)" text-anchor="middle">0</text>
<text transform="translate(395.2 487.8) scale(1 1.05)" text-anchor="middle">100</text>
<text transform="translate(504.5 487.8) scale(1 1.05)" text-anchor="middle">200</text>
<text transform="translate(613.7 487.8) scale(1 1.05)" text-anchor="middle">300</text>
<text transform="translate(723 487.8) scale(1 1.05)" text-anchor="middle">400</text>
<text transform="translate(832.3 487.8) scale(1 1.05)" text-anchor="middle">500</text>
</g>
<g font-size="26">
<path d="M865.4 41.5H928.8" stroke="#000000" stroke-width="1"/><g transform="translate(897.2 41.5)"><rect x="-1.6" y="-1.6" width="3.2" height="3.2" fill="#000000"/></g><text transform="translate(936 50.9) scale(1 1.05)" text-anchor="start">1</text>
<path d="M865.4 75.5H928.8" stroke="#ff0000" stroke-width="1"/><g transform="translate(897.2 75.5)"><circle r="1.7" fill="#ff0000"/></g><text transform="translate(936 85.4) scale(1 1.05)" text-anchor="start">2</text>
<path d="M865.4 110.5H928.8" stroke="#0000ff" stroke-width="1"/><g transform="translate(897.2 110.5)"><path d="M0 -2 L1.8 1.4 L-1.8 1.4 Z" fill="#0000ff"/></g><text transform="translate(936 119.8) scale(1 1.05)" text-anchor="start">3</text>
<path d="M865.4 144.5H928.8" stroke="#ff00ff" stroke-width="1"/><g transform="translate(897.2 144.5)"><path d="M0 2 L1.8 -1.4 L-1.8 -1.4 Z" fill="#ff00ff"/></g><text transform="translate(936 154.3) scale(1 1.05)" text-anchor="start">4</text>
<path d="M865.4 179.5H928.8" stroke="#008000" stroke-width="1"/><g transform="translate(897.2 179.5)"><path d="M0 -2.1 L2.1 0 L0 2.1 L-2.1 0 Z" fill="#008000"/></g><text transform="translate(936 188.7) scale(1 1.05)" text-anchor="start">5</text>
<path d="M865.4 213.5H928.8" stroke="#000080" stroke-width="1"/><g transform="translate(897.2 213.5)"><path d="M-2 0 L1.4 -1.8 L1.4 1.8 Z" fill="#000080"/></g><text transform="translate(936 223.2) scale(1 1.05)" text-anchor="start">6</text>
<path d="M865.4 248.5H928.8" stroke="#8000ff" stroke-width="1"/><g transform="translate(897.2 248.5)"><path d="M2 0 L-1.4 -1.8 L-1.4 1.8 Z" fill="#8000ff"/></g><text transform="translate(936 257.6) scale(1 1.05)" text-anchor="start">7</text>
<path d="M865.4 282.5H928.8" stroke="#800080" stroke-width="1"/><g transform="translate(897.2 282.5)"><circle r="2.2" fill="#800080"/></g><text transform="translate(936 292.1) scale(1 1.05)" text-anchor="start">8</text>
<path d="M865.4 317.5H928.8" stroke="#800000" stroke-width="1"/><g transform="translate(897.2 317.5)"><circle r="1.7" fill="#800000"/></g><text transform="translate(936 326.5) scale(1 1.05)" text-anchor="start">9</text>
<path d="M865.4 351.5H928.8" stroke="#808000" stroke-width="1"/><g transform="translate(897.2 351.5)"><circle r="2.2" fill="#808000"/></g><text transform="translate(936 360.9) scale(1 1.05)" text-anchor="start">10</text>
<path d="M865.4 386.5H928.8" stroke="#2a5cb0" stroke-width="1"/><g transform="translate(897.2 386.5)"><path d="M0 -1.8 L1.8 0 L0 1.8 L-1.8 0 Z" fill="#2a5cb0"/></g><text transform="translate(936 395.4) scale(1 1.05)" text-anchor="start">11</text>
<path d="M865.4 420.5H928.8" stroke="#2ea0a0" stroke-width="1"/><g transform="translate(897.2 420.5)"><path d="M-1.5 0H1.5 M0 -1.5V1.5" stroke="#2ea0a0" stroke-width="0.7" fill="none"/></g><text transform="translate(936 429.9) scale(1 1.05)" text-anchor="start">12</text>
<path d="M865.4 454.5H928.8" stroke="#b8905c" stroke-width="1"/><g transform="translate(897.2 454.5)"><path d="M-1.7 -1.7L1.7 1.7 M-1.7 1.7L1.7 -1.7" stroke="#b8905c" stroke-width="0.7" fill="none"/></g><text transform="translate(936 464.3) scale(1 1.05)" text-anchor="start">13</text>
<path d="M865.4 489.5H928.8" stroke="#2ed35a" stroke-width="1"/><g transform="translate(897.2 489.5)"><path d="M-1.7 -1.7L1.7 1.7 M-1.7 1.7L1.7 -1.7" stroke="#2ed35a" stroke-width="0.7" fill="none"/></g><text transform="translate(936 498.8) scale(1 1.05)" text-anchor="start">14</text>
<path d="M865.4 523.5H928.8" stroke="#a8308c" stroke-width="1"/><text transform="translate(936 533.2) scale(1 1.05)" text-anchor="start">15</text>
<path d="M865.4 558.5H928.8" stroke="#4fd0d8" stroke-width="1"/><g transform="translate(897.2 558.5)"><path d="M-1.5 0H1.5 M0 -1.5V1.5" stroke="#4fd0d8" stroke-width="0.7" fill="none"/></g><text transform="translate(936 567.6) scale(1 1.05)" text-anchor="start">16</text>
<path d="M865.4 592.5H928.8" stroke="#3b489e" stroke-width="1"/><g transform="translate(897.2 592.5)"><rect x="-1.8" y="-1.8" width="3.6" height="3.6" fill="#3b489e"/></g><text transform="translate(936 602.1) scale(1 1.05)" text-anchor="start">17</text>
</g>
</svg>
</body></html>
